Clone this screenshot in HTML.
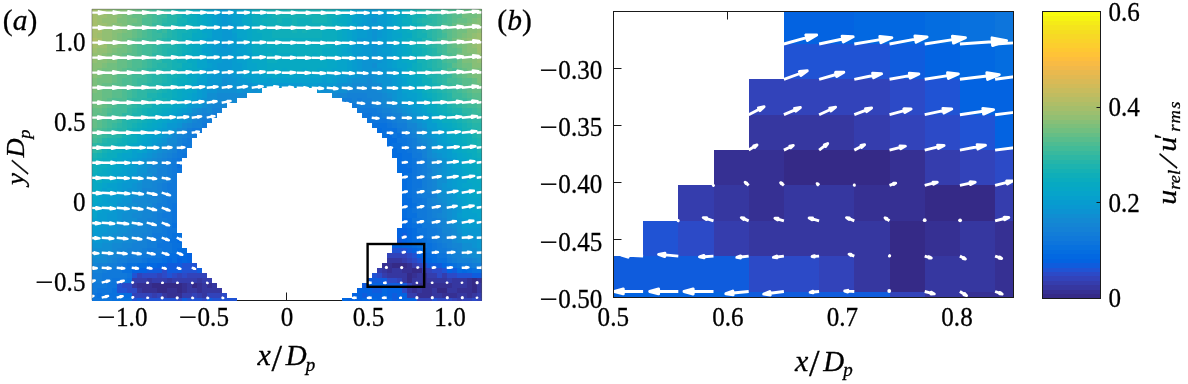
<!DOCTYPE html>
<html><head><meta charset="utf-8"><title>Figure</title>
<style>
html,body{margin:0;padding:0;background:#fff;}
body{width:1188px;height:384px;overflow:hidden;}
svg{display:block;}
text{font-family:"Liberation Serif",serif;fill:#000;stroke:#000;stroke-width:0.3px;}
.it{font-style:italic;}
</style></head><body>
<svg width="1188" height="384" viewBox="0 0 1188 384">
<g stroke="#1a1a1a" stroke-width="1" fill="none">
<path d="M225 300.5H352"/>
<path d="M286.5 300.5V292.5"/>
</g>
<g shape-rendering="crispEdges">
<path fill="#0268e1" d="M401.7 202.7h5.2v5.2h-5.2zM401.7 217.7h5.2v5.2h-5.2zM401.7 222.7h5.2v5.2h-5.2zM406.7 227.7h5.2v5.2h-5.2zM406.7 232.7h5.2v5.2h-5.2zM406.7 237.7h5.2v5.2h-5.2zM401.7 242.7h10.2v5.2h-10.2zM416.7 247.7h5.2v5.2h-5.2zM176.7 252.7h10.2v5.2h-10.2zM166.7 257.7h5.2v5.2h-5.2zM181.7 257.7h5.2v5.2h-5.2zM426.7 257.7h5.2v5.2h-5.2zM146.7 262.7h10.2v5.2h-10.2zM441.7 262.7h5.2v5.2h-5.2zM461.7 267.7h5.2v5.2h-5.2zM381.7 287.7h5.2v5.2h-5.2zM381.7 292.7h5.2v5.2h-5.2zM341.7 297.7h5.2v3.2h-5.2zM361.7 297.7h5.2v3.2h-5.2zM371.7 297.7h5.2v3.2h-5.2zM386.7 297.7h5.2v3.2h-5.2z"/>
<path fill="#0363e1" d="M396.7 227.7h10.2v5.2h-10.2zM396.7 232.7h5.2v5.2h-5.2zM401.7 237.7h5.2v5.2h-5.2zM391.7 242.7h10.2v5.2h-10.2zM411.7 247.7h5.2v5.2h-5.2zM186.7 252.7h5.2v5.2h-5.2zM416.7 252.7h10.2v5.2h-10.2zM176.7 257.7h5.2v5.2h-5.2zM186.7 257.7h5.2v5.2h-5.2zM421.7 257.7h5.2v5.2h-5.2zM156.7 262.7h10.2v5.2h-10.2zM131.7 267.7h15.2v5.2h-15.2zM446.7 267.7h5.2v5.2h-5.2zM366.7 282.7h20.2v5.2h-20.2zM356.7 287.7h15.2v5.2h-15.2zM386.7 287.7h15.2v5.2h-15.2zM351.7 292.7h10.2v5.2h-10.2zM366.7 292.7h15.2v5.2h-15.2zM386.7 292.7h5.2v5.2h-5.2zM396.7 292.7h10.2v5.2h-10.2zM346.7 297.7h15.2v3.2h-15.2zM366.7 297.7h5.2v3.2h-5.2zM376.7 297.7h10.2v3.2h-10.2zM396.7 297.7h20.2v3.2h-20.2z"/>
<path fill="#046de0" d="M376.7 127.7h5.2v5.2h-5.2zM386.7 132.7h5.2v5.2h-5.2zM386.7 137.7h10.2v5.2h-10.2zM386.7 142.7h5.2v5.2h-5.2zM391.7 147.7h5.2v5.2h-5.2zM391.7 152.7h10.2v5.2h-10.2zM396.7 157.7h5.2v5.2h-5.2zM396.7 162.7h10.2v5.2h-10.2zM396.7 167.7h15.2v5.2h-15.2zM401.7 172.7h5.2v5.2h-5.2zM401.7 177.7h5.2v5.2h-5.2zM401.7 182.7h5.2v5.2h-5.2zM401.7 187.7h5.2v5.2h-5.2zM401.7 192.7h5.2v5.2h-5.2zM401.7 197.7h10.2v5.2h-10.2zM406.7 202.7h5.2v5.2h-5.2zM401.7 207.7h5.2v5.2h-5.2zM401.7 212.7h5.2v5.2h-5.2zM406.7 217.7h5.2v5.2h-5.2zM406.7 222.7h5.2v5.2h-5.2zM411.7 227.7h5.2v5.2h-5.2zM411.7 232.7h5.2v5.2h-5.2zM176.7 237.7h5.2v5.2h-5.2zM411.7 237.7h10.2v5.2h-10.2zM411.7 242.7h5.2v5.2h-5.2zM176.7 247.7h10.2v5.2h-10.2zM421.7 247.7h5.2v5.2h-5.2zM166.7 252.7h10.2v5.2h-10.2zM426.7 252.7h10.2v5.2h-10.2zM161.7 257.7h5.2v5.2h-5.2zM171.7 257.7h5.2v5.2h-5.2zM431.7 257.7h5.2v5.2h-5.2zM136.7 262.7h10.2v5.2h-10.2zM446.7 262.7h5.2v5.2h-5.2zM456.7 267.7h5.2v5.2h-5.2zM466.7 267.7h5.2v5.2h-5.2zM121.7 292.7h10.2v5.2h-10.2z"/>
<path fill="#06a0cd" d="M211.7 9h5.2v3.9h-5.2zM231.7 9h5.2v3.9h-5.2zM356.7 9h5.2v3.9h-5.2zM381.7 9h10.2v3.9h-10.2zM211.7 12.7h5.2v5.2h-5.2zM231.7 12.7h10.2v5.2h-10.2zM356.7 12.7h5.2v5.2h-5.2zM386.7 12.7h5.2v5.2h-5.2zM211.7 17.7h5.2v5.2h-5.2zM231.7 17.7h10.2v5.2h-10.2zM351.7 17.7h10.2v5.2h-10.2zM386.7 17.7h5.2v5.2h-5.2zM211.7 22.7h5.2v5.2h-5.2zM236.7 22.7h5.2v5.2h-5.2zM386.7 22.7h5.2v5.2h-5.2zM231.7 27.7h5.2v5.3h-5.2zM351.7 27.7h5.2v5.3h-5.2zM386.7 27.7h5.2v5.3h-5.2zM351.7 32.7h5.2v5.2h-5.2zM386.7 32.7h5.2v5.2h-5.2zM206.7 37.7h5.2v5.2h-5.2zM236.7 37.7h5.2v5.2h-5.2zM351.7 37.7h5.2v5.2h-5.2zM386.7 37.7h5.2v5.2h-5.2zM206.7 42.7h5.2v5.2h-5.2zM241.7 42.7h5.2v5.2h-5.2zM201.7 47.7h10.2v5.2h-10.2zM236.7 47.7h10.2v5.2h-10.2zM346.7 47.7h5.2v5.2h-5.2zM391.7 47.7h5.2v5.2h-5.2zM206.7 52.7h5.2v5.2h-5.2zM241.7 52.7h10.2v5.2h-10.2zM391.7 52.7h5.2v5.2h-5.2zM236.7 57.7h10.2v5.2h-10.2zM346.7 57.7h5.2v5.2h-5.2zM391.7 57.7h5.2v5.2h-5.2zM206.7 62.7h5.2v5.2h-5.2zM241.7 62.7h5.2v5.2h-5.2zM346.7 62.7h5.2v5.2h-5.2zM391.7 62.7h5.2v5.2h-5.2zM201.7 67.7h5.2v5.2h-5.2zM241.7 67.7h5.2v5.2h-5.2zM346.7 67.7h5.2v5.2h-5.2zM396.7 67.7h5.2v5.2h-5.2zM201.7 72.7h5.2v5.2h-5.2zM241.7 72.7h20.2v5.2h-20.2zM321.7 72.7h15.2v5.2h-15.2zM396.7 72.7h5.2v5.2h-5.2zM196.7 77.7h10.2v5.2h-10.2zM251.7 77.7h15.2v5.2h-15.2zM271.7 77.7h50.2v5.2h-50.2zM326.7 77.7h5.2v5.2h-5.2zM401.7 77.7h5.2v5.2h-5.2zM401.7 82.7h5.2v5.2h-5.2zM401.7 87.7h10.2v5.2h-10.2zM191.7 92.7h5.2v5.2h-5.2zM406.7 92.7h10.2v5.2h-10.2zM191.7 97.7h5.2v5.2h-5.2zM411.7 97.7h5.2v5.2h-5.2zM176.7 107.7h5.2v5.2h-5.2zM421.7 107.7h5.2v5.2h-5.2zM171.7 112.7h5.2v5.2h-5.2zM426.7 112.7h5.2v5.2h-5.2zM166.7 117.7h5.2v5.2h-5.2zM161.7 122.7h5.2v5.2h-5.2zM156.7 127.7h5.2v5.2h-5.2zM436.7 127.7h5.2v5.2h-5.2zM151.7 132.7h10.2v5.2h-10.2zM441.7 132.7h5.2v5.2h-5.2zM146.7 137.7h5.2v5.2h-5.2zM441.7 137.7h5.2v5.2h-5.2zM141.7 142.7h10.2v5.2h-10.2zM446.7 142.7h5.2v5.2h-5.2zM131.7 147.7h5.2v5.2h-5.2zM141.7 147.7h5.2v5.2h-5.2zM131.7 152.7h5.2v5.2h-5.2zM451.7 152.7h5.2v5.2h-5.2zM126.7 157.7h5.2v5.2h-5.2zM121.7 162.7h10.2v5.2h-10.2zM451.7 162.7h10.2v5.2h-10.2zM121.7 167.7h5.2v5.2h-5.2zM456.7 167.7h5.2v5.2h-5.2zM116.7 172.7h10.2v5.2h-10.2zM456.7 172.7h5.2v5.2h-5.2zM116.7 177.7h5.2v5.2h-5.2zM456.7 177.7h10.2v5.2h-10.2zM106.7 182.7h10.2v5.2h-10.2zM456.7 182.7h5.2v5.2h-5.2zM101.7 187.7h5.2v5.2h-5.2zM111.7 187.7h5.2v5.2h-5.2zM456.7 187.7h10.2v5.2h-10.2zM101.7 192.7h10.2v5.2h-10.2zM456.7 192.7h10.2v5.2h-10.2zM101.7 197.7h5.2v5.2h-5.2zM461.7 197.7h5.2v5.2h-5.2zM96.7 202.7h15.2v5.2h-15.2zM461.7 202.7h5.2v5.2h-5.2zM96.7 207.7h5.2v5.2h-5.2zM461.7 207.7h10.2v5.2h-10.2zM461.7 212.7h15.2v5.2h-15.2zM91.7 217.7h5.2v5.2h-5.2zM466.7 217.7h15.2v5.2h-15.2z"/>
<path fill="#06a4ca" d="M206.7 9h5.2v3.9h-5.2zM236.7 9h10.2v3.9h-10.2zM351.7 9h5.2v3.9h-5.2zM206.7 12.7h5.2v5.2h-5.2zM241.7 12.7h5.2v5.2h-5.2zM351.7 12.7h5.2v5.2h-5.2zM391.7 12.7h5.2v5.2h-5.2zM206.7 17.7h5.2v5.2h-5.2zM391.7 17.7h5.2v5.2h-5.2zM206.7 22.7h5.2v5.2h-5.2zM241.7 22.7h5.2v5.2h-5.2zM346.7 22.7h10.2v5.2h-10.2zM391.7 22.7h5.2v5.2h-5.2zM201.7 27.7h10.2v5.3h-10.2zM236.7 27.7h10.2v5.3h-10.2zM346.7 27.7h5.2v5.3h-5.2zM391.7 27.7h5.2v5.3h-5.2zM206.7 32.7h5.2v5.2h-5.2zM236.7 32.7h10.2v5.2h-10.2zM346.7 32.7h5.2v5.2h-5.2zM391.7 32.7h10.2v5.2h-10.2zM201.7 37.7h5.2v5.2h-5.2zM241.7 37.7h5.2v5.2h-5.2zM346.7 37.7h5.2v5.2h-5.2zM391.7 37.7h5.2v5.2h-5.2zM201.7 42.7h5.2v5.2h-5.2zM246.7 42.7h5.2v5.2h-5.2zM346.7 42.7h5.2v5.2h-5.2zM391.7 42.7h10.2v5.2h-10.2zM246.7 47.7h5.2v5.2h-5.2zM341.7 47.7h5.2v5.2h-5.2zM396.7 47.7h5.2v5.2h-5.2zM201.7 52.7h5.2v5.2h-5.2zM341.7 52.7h10.2v5.2h-10.2zM396.7 52.7h5.2v5.2h-5.2zM196.7 57.7h10.2v5.2h-10.2zM246.7 57.7h5.2v5.2h-5.2zM336.7 57.7h10.2v5.2h-10.2zM396.7 57.7h5.2v5.2h-5.2zM196.7 62.7h10.2v5.2h-10.2zM246.7 62.7h10.2v5.2h-10.2zM336.7 62.7h10.2v5.2h-10.2zM396.7 62.7h10.2v5.2h-10.2zM246.7 67.7h10.2v5.2h-10.2zM331.7 67.7h15.2v5.2h-15.2zM401.7 67.7h5.2v5.2h-5.2zM196.7 72.7h5.2v5.2h-5.2zM261.7 72.7h10.2v5.2h-10.2zM276.7 72.7h10.2v5.2h-10.2zM291.7 72.7h30.2v5.2h-30.2zM401.7 72.7h5.2v5.2h-5.2zM191.7 82.7h5.2v5.2h-5.2zM406.7 82.7h5.2v5.2h-5.2zM191.7 87.7h5.2v5.2h-5.2zM411.7 87.7h5.2v5.2h-5.2zM186.7 92.7h5.2v5.2h-5.2zM416.7 92.7h5.2v5.2h-5.2zM181.7 97.7h10.2v5.2h-10.2zM416.7 97.7h5.2v5.2h-5.2zM181.7 102.7h5.2v5.2h-5.2zM421.7 102.7h5.2v5.2h-5.2zM171.7 107.7h5.2v5.2h-5.2zM166.7 112.7h5.2v5.2h-5.2zM161.7 117.7h5.2v5.2h-5.2zM431.7 117.7h5.2v5.2h-5.2zM156.7 122.7h5.2v5.2h-5.2zM436.7 122.7h5.2v5.2h-5.2zM151.7 127.7h5.2v5.2h-5.2zM441.7 127.7h5.2v5.2h-5.2zM146.7 132.7h5.2v5.2h-5.2zM141.7 137.7h5.2v5.2h-5.2zM446.7 137.7h5.2v5.2h-5.2zM136.7 142.7h5.2v5.2h-5.2zM451.7 142.7h5.2v5.2h-5.2zM136.7 147.7h5.2v5.2h-5.2zM451.7 147.7h5.2v5.2h-5.2zM121.7 152.7h10.2v5.2h-10.2zM456.7 152.7h5.2v5.2h-5.2zM121.7 157.7h5.2v5.2h-5.2zM456.7 157.7h10.2v5.2h-10.2zM116.7 162.7h5.2v5.2h-5.2zM111.7 167.7h10.2v5.2h-10.2zM461.7 167.7h5.2v5.2h-5.2zM111.7 172.7h5.2v5.2h-5.2zM461.7 172.7h5.2v5.2h-5.2zM111.7 177.7h5.2v5.2h-5.2zM101.7 182.7h5.2v5.2h-5.2zM461.7 182.7h10.2v5.2h-10.2zM106.7 187.7h5.2v5.2h-5.2zM466.7 187.7h5.2v5.2h-5.2zM96.7 192.7h5.2v5.2h-5.2zM466.7 192.7h5.2v5.2h-5.2zM96.7 197.7h5.2v5.2h-5.2zM466.7 197.7h15.2v5.2h-15.2zM91.7 202.7h5.2v5.2h-5.2zM466.7 202.7h15.2v5.2h-15.2zM91.7 207.7h5.2v5.2h-5.2zM471.7 207.7h10.2v5.2h-10.2zM91.7 212.7h5.2v5.2h-5.2zM476.7 212.7h5.2v5.2h-5.2z"/>
<path fill="#06a7c6" d="M201.7 9h5.2v3.9h-5.2zM246.7 9h5.2v3.9h-5.2zM346.7 9h5.2v3.9h-5.2zM391.7 9h10.2v3.9h-10.2zM201.7 12.7h5.2v5.2h-5.2zM346.7 12.7h5.2v5.2h-5.2zM201.7 17.7h5.2v5.2h-5.2zM241.7 17.7h10.2v5.2h-10.2zM346.7 17.7h5.2v5.2h-5.2zM396.7 17.7h5.2v5.2h-5.2zM201.7 22.7h5.2v5.2h-5.2zM246.7 22.7h5.2v5.2h-5.2zM396.7 22.7h5.2v5.2h-5.2zM246.7 27.7h5.2v5.3h-5.2zM341.7 27.7h5.2v5.3h-5.2zM396.7 27.7h5.2v5.3h-5.2zM201.7 32.7h5.2v5.2h-5.2zM246.7 32.7h5.2v5.2h-5.2zM341.7 32.7h5.2v5.2h-5.2zM196.7 37.7h5.2v5.2h-5.2zM246.7 37.7h5.2v5.2h-5.2zM341.7 37.7h5.2v5.2h-5.2zM396.7 37.7h5.2v5.2h-5.2zM336.7 42.7h10.2v5.2h-10.2zM401.7 42.7h5.2v5.2h-5.2zM196.7 47.7h5.2v5.2h-5.2zM336.7 47.7h5.2v5.2h-5.2zM401.7 47.7h5.2v5.2h-5.2zM196.7 52.7h5.2v5.2h-5.2zM251.7 52.7h10.2v5.2h-10.2zM336.7 52.7h5.2v5.2h-5.2zM401.7 52.7h5.2v5.2h-5.2zM251.7 57.7h15.2v5.2h-15.2zM326.7 57.7h10.2v5.2h-10.2zM401.7 57.7h5.2v5.2h-5.2zM256.7 62.7h10.2v5.2h-10.2zM326.7 62.7h10.2v5.2h-10.2zM406.7 62.7h5.2v5.2h-5.2zM196.7 67.7h5.2v5.2h-5.2zM256.7 67.7h10.2v5.2h-10.2zM271.7 67.7h5.2v5.2h-5.2zM281.7 67.7h5.2v5.2h-5.2zM301.7 67.7h5.2v5.2h-5.2zM316.7 67.7h15.2v5.2h-15.2zM186.7 72.7h10.2v5.2h-10.2zM271.7 72.7h5.2v5.2h-5.2zM286.7 72.7h5.2v5.2h-5.2zM406.7 72.7h5.2v5.2h-5.2zM191.7 77.7h5.2v5.2h-5.2zM406.7 77.7h10.2v5.2h-10.2zM186.7 82.7h5.2v5.2h-5.2zM411.7 82.7h5.2v5.2h-5.2zM181.7 87.7h10.2v5.2h-10.2zM416.7 87.7h5.2v5.2h-5.2zM181.7 92.7h5.2v5.2h-5.2zM421.7 97.7h5.2v5.2h-5.2zM171.7 102.7h10.2v5.2h-10.2zM166.7 107.7h5.2v5.2h-5.2zM426.7 107.7h5.2v5.2h-5.2zM161.7 112.7h5.2v5.2h-5.2zM431.7 112.7h5.2v5.2h-5.2zM156.7 117.7h5.2v5.2h-5.2zM436.7 117.7h5.2v5.2h-5.2zM151.7 122.7h5.2v5.2h-5.2zM441.7 122.7h5.2v5.2h-5.2zM146.7 127.7h5.2v5.2h-5.2zM446.7 127.7h5.2v5.2h-5.2zM141.7 132.7h5.2v5.2h-5.2zM446.7 132.7h5.2v5.2h-5.2zM136.7 137.7h5.2v5.2h-5.2zM451.7 137.7h5.2v5.2h-5.2zM131.7 142.7h5.2v5.2h-5.2zM126.7 147.7h5.2v5.2h-5.2zM456.7 147.7h5.2v5.2h-5.2zM116.7 152.7h5.2v5.2h-5.2zM461.7 152.7h5.2v5.2h-5.2zM111.7 157.7h10.2v5.2h-10.2zM111.7 162.7h5.2v5.2h-5.2zM461.7 162.7h10.2v5.2h-10.2zM106.7 167.7h5.2v5.2h-5.2zM466.7 167.7h5.2v5.2h-5.2zM106.7 172.7h5.2v5.2h-5.2zM466.7 172.7h10.2v5.2h-10.2zM101.7 177.7h10.2v5.2h-10.2zM466.7 177.7h10.2v5.2h-10.2zM96.7 182.7h5.2v5.2h-5.2zM471.7 182.7h10.2v5.2h-10.2zM96.7 187.7h5.2v5.2h-5.2zM471.7 187.7h5.2v5.2h-5.2zM91.7 192.7h5.2v5.2h-5.2zM471.7 192.7h10.2v5.2h-10.2zM91.7 197.7h5.2v5.2h-5.2z"/>
<path fill="#079ccf" d="M216.7 9h5.2v3.9h-5.2zM226.7 9h5.2v3.9h-5.2zM361.7 9h10.2v3.9h-10.2zM376.7 9h5.2v3.9h-5.2zM216.7 12.7h5.2v5.2h-5.2zM226.7 12.7h5.2v5.2h-5.2zM361.7 12.7h10.2v5.2h-10.2zM376.7 12.7h10.2v5.2h-10.2zM216.7 17.7h5.2v5.2h-5.2zM226.7 17.7h5.2v5.2h-5.2zM361.7 17.7h5.2v5.2h-5.2zM376.7 17.7h10.2v5.2h-10.2zM216.7 22.7h5.2v5.2h-5.2zM231.7 22.7h5.2v5.2h-5.2zM356.7 22.7h5.2v5.2h-5.2zM381.7 22.7h5.2v5.2h-5.2zM211.7 27.7h10.2v5.3h-10.2zM356.7 27.7h10.2v5.3h-10.2zM381.7 27.7h5.2v5.3h-5.2zM211.7 32.7h10.2v5.2h-10.2zM231.7 32.7h5.2v5.2h-5.2zM356.7 32.7h10.2v5.2h-10.2zM381.7 32.7h5.2v5.2h-5.2zM211.7 37.7h10.2v5.2h-10.2zM231.7 37.7h5.2v5.2h-5.2zM376.7 37.7h10.2v5.2h-10.2zM211.7 42.7h10.2v5.2h-10.2zM226.7 42.7h15.2v5.2h-15.2zM351.7 42.7h10.2v5.2h-10.2zM386.7 42.7h5.2v5.2h-5.2zM211.7 47.7h5.2v5.2h-5.2zM231.7 47.7h5.2v5.2h-5.2zM351.7 47.7h10.2v5.2h-10.2zM381.7 47.7h10.2v5.2h-10.2zM211.7 52.7h10.2v5.2h-10.2zM231.7 52.7h10.2v5.2h-10.2zM351.7 52.7h5.2v5.2h-5.2zM386.7 52.7h5.2v5.2h-5.2zM206.7 57.7h15.2v5.2h-15.2zM231.7 57.7h5.2v5.2h-5.2zM351.7 57.7h5.2v5.2h-5.2zM386.7 57.7h5.2v5.2h-5.2zM211.7 62.7h5.2v5.2h-5.2zM231.7 62.7h10.2v5.2h-10.2zM351.7 62.7h5.2v5.2h-5.2zM386.7 62.7h5.2v5.2h-5.2zM206.7 67.7h10.2v5.2h-10.2zM231.7 67.7h10.2v5.2h-10.2zM351.7 67.7h5.2v5.2h-5.2zM391.7 67.7h5.2v5.2h-5.2zM206.7 72.7h5.2v5.2h-5.2zM336.7 72.7h10.2v5.2h-10.2zM391.7 72.7h5.2v5.2h-5.2zM246.7 77.7h5.2v5.2h-5.2zM266.7 77.7h5.2v5.2h-5.2zM321.7 77.7h5.2v5.2h-5.2zM331.7 77.7h5.2v5.2h-5.2zM396.7 77.7h5.2v5.2h-5.2zM196.7 82.7h10.2v5.2h-10.2zM266.7 82.7h10.2v5.2h-10.2zM301.7 82.7h15.2v5.2h-15.2zM396.7 82.7h5.2v5.2h-5.2zM196.7 87.7h5.2v5.2h-5.2zM196.7 92.7h5.2v5.2h-5.2zM401.7 92.7h5.2v5.2h-5.2zM401.7 97.7h10.2v5.2h-10.2zM186.7 102.7h5.2v5.2h-5.2zM411.7 102.7h10.2v5.2h-10.2zM181.7 107.7h5.2v5.2h-5.2zM416.7 107.7h5.2v5.2h-5.2zM176.7 112.7h5.2v5.2h-5.2zM421.7 112.7h5.2v5.2h-5.2zM171.7 117.7h5.2v5.2h-5.2zM426.7 117.7h5.2v5.2h-5.2zM426.7 122.7h10.2v5.2h-10.2zM161.7 127.7h5.2v5.2h-5.2zM431.7 127.7h5.2v5.2h-5.2zM436.7 132.7h5.2v5.2h-5.2zM151.7 137.7h5.2v5.2h-5.2zM436.7 137.7h5.2v5.2h-5.2zM441.7 142.7h5.2v5.2h-5.2zM446.7 147.7h5.2v5.2h-5.2zM136.7 152.7h5.2v5.2h-5.2zM446.7 152.7h5.2v5.2h-5.2zM131.7 157.7h5.2v5.2h-5.2zM451.7 157.7h5.2v5.2h-5.2zM131.7 162.7h5.2v5.2h-5.2zM126.7 167.7h10.2v5.2h-10.2zM451.7 167.7h5.2v5.2h-5.2zM126.7 172.7h5.2v5.2h-5.2zM451.7 172.7h5.2v5.2h-5.2zM121.7 177.7h5.2v5.2h-5.2zM451.7 177.7h5.2v5.2h-5.2zM116.7 182.7h5.2v5.2h-5.2zM451.7 182.7h5.2v5.2h-5.2zM116.7 187.7h5.2v5.2h-5.2zM111.7 192.7h10.2v5.2h-10.2zM106.7 197.7h10.2v5.2h-10.2zM456.7 197.7h5.2v5.2h-5.2zM111.7 202.7h5.2v5.2h-5.2zM456.7 202.7h5.2v5.2h-5.2zM101.7 207.7h10.2v5.2h-10.2zM96.7 212.7h10.2v5.2h-10.2zM456.7 212.7h5.2v5.2h-5.2zM96.7 217.7h10.2v5.2h-10.2zM461.7 217.7h5.2v5.2h-5.2zM91.7 222.7h10.2v5.2h-10.2zM461.7 222.7h20.2v5.2h-20.2zM91.7 227.7h5.2v5.2h-5.2z"/>
<path fill="#07a9c2" d="M196.7 9h5.2v3.9h-5.2zM196.7 12.7h5.2v5.2h-5.2zM246.7 12.7h5.2v5.2h-5.2zM341.7 12.7h5.2v5.2h-5.2zM396.7 12.7h10.2v5.2h-10.2zM196.7 17.7h5.2v5.2h-5.2zM336.7 17.7h10.2v5.2h-10.2zM196.7 22.7h5.2v5.2h-5.2zM251.7 22.7h5.2v5.2h-5.2zM341.7 22.7h5.2v5.2h-5.2zM401.7 22.7h5.2v5.2h-5.2zM196.7 27.7h5.2v5.3h-5.2zM251.7 27.7h5.2v5.3h-5.2zM336.7 27.7h5.2v5.3h-5.2zM401.7 27.7h5.2v5.3h-5.2zM191.7 32.7h10.2v5.2h-10.2zM251.7 32.7h10.2v5.2h-10.2zM336.7 32.7h5.2v5.2h-5.2zM401.7 32.7h10.2v5.2h-10.2zM191.7 37.7h5.2v5.2h-5.2zM251.7 37.7h10.2v5.2h-10.2zM336.7 37.7h5.2v5.2h-5.2zM401.7 37.7h5.2v5.2h-5.2zM191.7 42.7h10.2v5.2h-10.2zM251.7 42.7h15.2v5.2h-15.2zM331.7 42.7h5.2v5.2h-5.2zM191.7 47.7h5.2v5.2h-5.2zM251.7 47.7h25.2v5.2h-25.2zM321.7 47.7h15.2v5.2h-15.2zM406.7 47.7h5.2v5.2h-5.2zM186.7 52.7h10.2v5.2h-10.2zM261.7 52.7h5.2v5.2h-5.2zM271.7 52.7h25.2v5.2h-25.2zM311.7 52.7h5.2v5.2h-5.2zM321.7 52.7h15.2v5.2h-15.2zM406.7 52.7h5.2v5.2h-5.2zM186.7 57.7h10.2v5.2h-10.2zM276.7 57.7h50.2v5.2h-50.2zM406.7 57.7h10.2v5.2h-10.2zM191.7 62.7h5.2v5.2h-5.2zM266.7 62.7h60.2v5.2h-60.2zM186.7 67.7h10.2v5.2h-10.2zM266.7 67.7h5.2v5.2h-5.2zM276.7 67.7h5.2v5.2h-5.2zM286.7 67.7h15.2v5.2h-15.2zM306.7 67.7h10.2v5.2h-10.2zM406.7 67.7h5.2v5.2h-5.2zM411.7 72.7h5.2v5.2h-5.2zM186.7 77.7h5.2v5.2h-5.2zM416.7 77.7h5.2v5.2h-5.2zM181.7 82.7h5.2v5.2h-5.2zM416.7 82.7h5.2v5.2h-5.2zM176.7 87.7h5.2v5.2h-5.2zM176.7 92.7h5.2v5.2h-5.2zM421.7 92.7h5.2v5.2h-5.2zM171.7 97.7h10.2v5.2h-10.2zM426.7 97.7h5.2v5.2h-5.2zM426.7 102.7h10.2v5.2h-10.2zM161.7 107.7h5.2v5.2h-5.2zM431.7 107.7h5.2v5.2h-5.2zM156.7 112.7h5.2v5.2h-5.2zM436.7 112.7h5.2v5.2h-5.2zM151.7 117.7h5.2v5.2h-5.2zM146.7 122.7h5.2v5.2h-5.2zM446.7 122.7h5.2v5.2h-5.2zM141.7 127.7h5.2v5.2h-5.2zM451.7 127.7h5.2v5.2h-5.2zM136.7 132.7h5.2v5.2h-5.2zM451.7 132.7h10.2v5.2h-10.2zM456.7 137.7h5.2v5.2h-5.2zM126.7 142.7h5.2v5.2h-5.2zM456.7 142.7h10.2v5.2h-10.2zM121.7 147.7h5.2v5.2h-5.2zM461.7 147.7h5.2v5.2h-5.2zM466.7 152.7h5.2v5.2h-5.2zM466.7 157.7h10.2v5.2h-10.2zM106.7 162.7h5.2v5.2h-5.2zM471.7 162.7h5.2v5.2h-5.2zM101.7 167.7h5.2v5.2h-5.2zM471.7 167.7h5.2v5.2h-5.2zM96.7 172.7h10.2v5.2h-10.2zM476.7 172.7h5.2v5.2h-5.2zM91.7 177.7h5.2v5.2h-5.2zM476.7 177.7h5.2v5.2h-5.2zM91.7 182.7h5.2v5.2h-5.2zM91.7 187.7h5.2v5.2h-5.2zM476.7 187.7h5.2v5.2h-5.2z"/>
<path fill="#0871de" d="M371.7 122.7h15.2v5.2h-15.2zM381.7 127.7h15.2v5.2h-15.2zM381.7 132.7h5.2v5.2h-5.2zM396.7 132.7h5.2v5.2h-5.2zM391.7 142.7h10.2v5.2h-10.2zM396.7 147.7h10.2v5.2h-10.2zM401.7 152.7h10.2v5.2h-10.2zM401.7 157.7h10.2v5.2h-10.2zM176.7 162.7h5.2v5.2h-5.2zM406.7 162.7h5.2v5.2h-5.2zM406.7 172.7h5.2v5.2h-5.2zM406.7 177.7h5.2v5.2h-5.2zM406.7 182.7h5.2v5.2h-5.2zM406.7 187.7h5.2v5.2h-5.2zM406.7 192.7h5.2v5.2h-5.2zM411.7 202.7h5.2v5.2h-5.2zM406.7 207.7h5.2v5.2h-5.2zM406.7 212.7h10.2v5.2h-10.2zM171.7 222.7h5.2v5.2h-5.2zM411.7 222.7h10.2v5.2h-10.2zM171.7 232.7h10.2v5.2h-10.2zM416.7 232.7h5.2v5.2h-5.2zM166.7 237.7h10.2v5.2h-10.2zM421.7 237.7h5.2v5.2h-5.2zM171.7 242.7h10.2v5.2h-10.2zM416.7 242.7h5.2v5.2h-5.2zM426.7 242.7h5.2v5.2h-5.2zM171.7 247.7h5.2v5.2h-5.2zM426.7 247.7h5.2v5.2h-5.2zM161.7 252.7h5.2v5.2h-5.2zM146.7 257.7h15.2v5.2h-15.2zM436.7 257.7h10.2v5.2h-10.2zM126.7 262.7h10.2v5.2h-10.2zM451.7 262.7h5.2v5.2h-5.2zM121.7 267.7h10.2v5.2h-10.2zM471.7 267.7h10.2v5.2h-10.2zM126.7 277.7h5.2v5.2h-5.2zM111.7 287.7h5.2v5.2h-5.2zM96.7 292.7h5.2v5.2h-5.2zM106.7 292.7h15.2v5.2h-15.2zM111.7 297.7h20.2v3.2h-20.2z"/>
<path fill="#0998d1" d="M221.7 9h5.2v3.9h-5.2zM371.7 9h5.2v3.9h-5.2zM221.7 12.7h5.2v5.2h-5.2zM371.7 12.7h5.2v5.2h-5.2zM221.7 17.7h5.2v5.2h-5.2zM366.7 17.7h5.2v5.2h-5.2zM221.7 22.7h10.2v5.2h-10.2zM361.7 22.7h20.2v5.2h-20.2zM221.7 27.7h10.2v5.3h-10.2zM366.7 27.7h5.2v5.3h-5.2zM376.7 27.7h5.2v5.3h-5.2zM221.7 32.7h10.2v5.2h-10.2zM366.7 32.7h5.2v5.2h-5.2zM376.7 32.7h5.2v5.2h-5.2zM221.7 37.7h10.2v5.2h-10.2zM356.7 37.7h15.2v5.2h-15.2zM361.7 42.7h10.2v5.2h-10.2zM376.7 42.7h10.2v5.2h-10.2zM216.7 47.7h15.2v5.2h-15.2zM361.7 47.7h10.2v5.2h-10.2zM376.7 47.7h5.2v5.2h-5.2zM221.7 52.7h10.2v5.2h-10.2zM356.7 52.7h15.2v5.2h-15.2zM376.7 52.7h10.2v5.2h-10.2zM221.7 57.7h10.2v5.2h-10.2zM356.7 57.7h5.2v5.2h-5.2zM381.7 57.7h5.2v5.2h-5.2zM216.7 62.7h15.2v5.2h-15.2zM356.7 62.7h5.2v5.2h-5.2zM376.7 62.7h10.2v5.2h-10.2zM216.7 67.7h15.2v5.2h-15.2zM356.7 67.7h5.2v5.2h-5.2zM381.7 67.7h10.2v5.2h-10.2zM211.7 72.7h10.2v5.2h-10.2zM231.7 72.7h10.2v5.2h-10.2zM346.7 72.7h10.2v5.2h-10.2zM386.7 72.7h5.2v5.2h-5.2zM206.7 77.7h15.2v5.2h-15.2zM236.7 77.7h10.2v5.2h-10.2zM336.7 77.7h10.2v5.2h-10.2zM391.7 77.7h5.2v5.2h-5.2zM206.7 82.7h5.2v5.2h-5.2zM241.7 82.7h5.2v5.2h-5.2zM251.7 82.7h15.2v5.2h-15.2zM276.7 82.7h25.2v5.2h-25.2zM316.7 82.7h20.2v5.2h-20.2zM391.7 82.7h5.2v5.2h-5.2zM201.7 87.7h5.2v5.2h-5.2zM396.7 87.7h5.2v5.2h-5.2zM201.7 92.7h5.2v5.2h-5.2zM396.7 92.7h5.2v5.2h-5.2zM196.7 97.7h5.2v5.2h-5.2zM396.7 97.7h5.2v5.2h-5.2zM191.7 102.7h10.2v5.2h-10.2zM406.7 102.7h5.2v5.2h-5.2zM186.7 107.7h5.2v5.2h-5.2zM411.7 107.7h5.2v5.2h-5.2zM416.7 112.7h5.2v5.2h-5.2zM176.7 117.7h5.2v5.2h-5.2zM421.7 117.7h5.2v5.2h-5.2zM166.7 122.7h10.2v5.2h-10.2zM166.7 127.7h5.2v5.2h-5.2zM426.7 127.7h5.2v5.2h-5.2zM161.7 132.7h5.2v5.2h-5.2zM431.7 132.7h5.2v5.2h-5.2zM156.7 137.7h5.2v5.2h-5.2zM151.7 142.7h5.2v5.2h-5.2zM436.7 142.7h5.2v5.2h-5.2zM146.7 147.7h5.2v5.2h-5.2zM436.7 147.7h10.2v5.2h-10.2zM141.7 152.7h5.2v5.2h-5.2zM441.7 152.7h5.2v5.2h-5.2zM136.7 157.7h5.2v5.2h-5.2zM446.7 157.7h5.2v5.2h-5.2zM136.7 162.7h5.2v5.2h-5.2zM446.7 162.7h5.2v5.2h-5.2zM446.7 167.7h5.2v5.2h-5.2zM131.7 172.7h5.2v5.2h-5.2zM446.7 172.7h5.2v5.2h-5.2zM126.7 177.7h10.2v5.2h-10.2zM446.7 177.7h5.2v5.2h-5.2zM121.7 182.7h10.2v5.2h-10.2zM446.7 182.7h5.2v5.2h-5.2zM121.7 187.7h5.2v5.2h-5.2zM451.7 187.7h5.2v5.2h-5.2zM121.7 192.7h5.2v5.2h-5.2zM451.7 192.7h5.2v5.2h-5.2zM116.7 197.7h5.2v5.2h-5.2zM451.7 197.7h5.2v5.2h-5.2zM111.7 207.7h5.2v5.2h-5.2zM456.7 207.7h5.2v5.2h-5.2zM106.7 212.7h10.2v5.2h-10.2zM106.7 217.7h10.2v5.2h-10.2zM456.7 217.7h5.2v5.2h-5.2zM101.7 222.7h10.2v5.2h-10.2zM96.7 227.7h10.2v5.2h-10.2zM461.7 227.7h20.2v5.2h-20.2zM91.7 232.7h10.2v5.2h-10.2zM461.7 232.7h5.2v5.2h-5.2zM471.7 232.7h10.2v5.2h-10.2zM91.7 237.7h10.2v5.2h-10.2zM476.7 237.7h5.2v5.2h-5.2zM476.7 242.7h5.2v5.2h-5.2z"/>
<path fill="#0aacbe" d="M191.7 9h5.2v3.9h-5.2zM251.7 9h10.2v3.9h-10.2zM336.7 9h10.2v3.9h-10.2zM401.7 9h10.2v3.9h-10.2zM191.7 12.7h5.2v5.2h-5.2zM251.7 12.7h15.2v5.2h-15.2zM336.7 12.7h5.2v5.2h-5.2zM186.7 17.7h10.2v5.2h-10.2zM251.7 17.7h10.2v5.2h-10.2zM331.7 17.7h5.2v5.2h-5.2zM401.7 17.7h10.2v5.2h-10.2zM191.7 22.7h5.2v5.2h-5.2zM256.7 22.7h10.2v5.2h-10.2zM331.7 22.7h10.2v5.2h-10.2zM406.7 22.7h5.2v5.2h-5.2zM191.7 27.7h5.2v5.3h-5.2zM256.7 27.7h15.2v5.3h-15.2zM321.7 27.7h15.2v5.3h-15.2zM406.7 27.7h5.2v5.3h-5.2zM261.7 32.7h10.2v5.2h-10.2zM321.7 32.7h15.2v5.2h-15.2zM186.7 37.7h5.2v5.2h-5.2zM261.7 37.7h75.2v5.2h-75.2zM406.7 37.7h5.2v5.2h-5.2zM186.7 42.7h5.2v5.2h-5.2zM266.7 42.7h65.2v5.2h-65.2zM406.7 42.7h5.2v5.2h-5.2zM186.7 47.7h5.2v5.2h-5.2zM276.7 47.7h45.2v5.2h-45.2zM181.7 52.7h5.2v5.2h-5.2zM266.7 52.7h5.2v5.2h-5.2zM296.7 52.7h15.2v5.2h-15.2zM316.7 52.7h5.2v5.2h-5.2zM411.7 52.7h5.2v5.2h-5.2zM266.7 57.7h10.2v5.2h-10.2zM181.7 62.7h10.2v5.2h-10.2zM411.7 62.7h5.2v5.2h-5.2zM181.7 67.7h5.2v5.2h-5.2zM411.7 67.7h5.2v5.2h-5.2zM181.7 72.7h5.2v5.2h-5.2zM416.7 72.7h5.2v5.2h-5.2zM176.7 77.7h10.2v5.2h-10.2zM176.7 82.7h5.2v5.2h-5.2zM421.7 82.7h5.2v5.2h-5.2zM171.7 87.7h5.2v5.2h-5.2zM421.7 87.7h5.2v5.2h-5.2zM171.7 92.7h5.2v5.2h-5.2zM426.7 92.7h5.2v5.2h-5.2zM161.7 102.7h10.2v5.2h-10.2zM156.7 107.7h5.2v5.2h-5.2zM436.7 107.7h5.2v5.2h-5.2zM151.7 112.7h5.2v5.2h-5.2zM441.7 112.7h5.2v5.2h-5.2zM146.7 117.7h5.2v5.2h-5.2zM441.7 117.7h10.2v5.2h-10.2zM141.7 122.7h5.2v5.2h-5.2zM451.7 122.7h5.2v5.2h-5.2zM136.7 127.7h5.2v5.2h-5.2zM456.7 127.7h5.2v5.2h-5.2zM131.7 132.7h5.2v5.2h-5.2zM461.7 132.7h5.2v5.2h-5.2zM126.7 137.7h10.2v5.2h-10.2zM461.7 137.7h5.2v5.2h-5.2zM111.7 147.7h10.2v5.2h-10.2zM466.7 147.7h10.2v5.2h-10.2zM106.7 152.7h10.2v5.2h-10.2zM471.7 152.7h5.2v5.2h-5.2zM101.7 157.7h10.2v5.2h-10.2zM476.7 157.7h5.2v5.2h-5.2zM96.7 162.7h10.2v5.2h-10.2zM476.7 162.7h5.2v5.2h-5.2zM96.7 167.7h5.2v5.2h-5.2zM476.7 167.7h5.2v5.2h-5.2zM91.7 172.7h5.2v5.2h-5.2zM96.7 177.7h5.2v5.2h-5.2z"/>
<path fill="#0c93d2" d="M371.7 17.7h5.2v5.2h-5.2zM371.7 27.7h5.2v5.3h-5.2zM371.7 32.7h5.2v5.2h-5.2zM371.7 37.7h5.2v5.2h-5.2zM221.7 42.7h5.2v5.2h-5.2zM371.7 42.7h5.2v5.2h-5.2zM371.7 47.7h5.2v5.2h-5.2zM371.7 52.7h5.2v5.2h-5.2zM361.7 57.7h20.2v5.2h-20.2zM361.7 62.7h10.2v5.2h-10.2zM361.7 67.7h20.2v5.2h-20.2zM221.7 72.7h10.2v5.2h-10.2zM356.7 72.7h5.2v5.2h-5.2zM376.7 72.7h10.2v5.2h-10.2zM226.7 77.7h10.2v5.2h-10.2zM346.7 77.7h5.2v5.2h-5.2zM376.7 77.7h15.2v5.2h-15.2zM211.7 82.7h10.2v5.2h-10.2zM231.7 82.7h10.2v5.2h-10.2zM246.7 82.7h5.2v5.2h-5.2zM336.7 82.7h5.2v5.2h-5.2zM381.7 82.7h10.2v5.2h-10.2zM206.7 87.7h10.2v5.2h-10.2zM236.7 87.7h5.2v5.2h-5.2zM246.7 87.7h5.2v5.2h-5.2zM256.7 87.7h5.2v5.2h-5.2zM316.7 87.7h5.2v5.2h-5.2zM386.7 87.7h10.2v5.2h-10.2zM391.7 92.7h5.2v5.2h-5.2zM201.7 97.7h5.2v5.2h-5.2zM391.7 97.7h5.2v5.2h-5.2zM401.7 102.7h5.2v5.2h-5.2zM406.7 107.7h5.2v5.2h-5.2zM181.7 112.7h5.2v5.2h-5.2zM411.7 112.7h5.2v5.2h-5.2zM181.7 117.7h5.2v5.2h-5.2zM416.7 117.7h5.2v5.2h-5.2zM176.7 122.7h5.2v5.2h-5.2zM421.7 122.7h5.2v5.2h-5.2zM171.7 127.7h5.2v5.2h-5.2zM166.7 132.7h5.2v5.2h-5.2zM426.7 132.7h5.2v5.2h-5.2zM161.7 137.7h5.2v5.2h-5.2zM431.7 137.7h5.2v5.2h-5.2zM156.7 142.7h5.2v5.2h-5.2zM431.7 142.7h5.2v5.2h-5.2zM151.7 147.7h5.2v5.2h-5.2zM431.7 147.7h5.2v5.2h-5.2zM146.7 152.7h5.2v5.2h-5.2zM436.7 152.7h5.2v5.2h-5.2zM141.7 157.7h5.2v5.2h-5.2zM441.7 157.7h5.2v5.2h-5.2zM141.7 162.7h5.2v5.2h-5.2zM441.7 162.7h5.2v5.2h-5.2zM136.7 167.7h10.2v5.2h-10.2zM441.7 167.7h5.2v5.2h-5.2zM136.7 172.7h5.2v5.2h-5.2zM441.7 172.7h5.2v5.2h-5.2zM136.7 177.7h5.2v5.2h-5.2zM131.7 182.7h5.2v5.2h-5.2zM441.7 182.7h5.2v5.2h-5.2zM126.7 187.7h10.2v5.2h-10.2zM441.7 187.7h10.2v5.2h-10.2zM126.7 192.7h5.2v5.2h-5.2zM446.7 192.7h5.2v5.2h-5.2zM121.7 197.7h10.2v5.2h-10.2zM446.7 197.7h5.2v5.2h-5.2zM116.7 202.7h10.2v5.2h-10.2zM446.7 202.7h10.2v5.2h-10.2zM116.7 207.7h10.2v5.2h-10.2zM451.7 207.7h5.2v5.2h-5.2zM116.7 212.7h5.2v5.2h-5.2zM451.7 212.7h5.2v5.2h-5.2zM116.7 217.7h5.2v5.2h-5.2zM451.7 217.7h5.2v5.2h-5.2zM111.7 222.7h5.2v5.2h-5.2zM456.7 222.7h5.2v5.2h-5.2zM106.7 227.7h10.2v5.2h-10.2zM456.7 227.7h5.2v5.2h-5.2zM101.7 232.7h10.2v5.2h-10.2zM466.7 232.7h5.2v5.2h-5.2zM101.7 237.7h10.2v5.2h-10.2zM461.7 237.7h15.2v5.2h-15.2zM91.7 242.7h10.2v5.2h-10.2zM471.7 242.7h5.2v5.2h-5.2zM476.7 247.7h5.2v5.2h-5.2z"/>
<path fill="#0d75dc" d="M361.7 112.7h10.2v5.2h-10.2zM366.7 117.7h20.2v5.2h-20.2zM386.7 122.7h5.2v5.2h-5.2zM391.7 132.7h5.2v5.2h-5.2zM396.7 137.7h10.2v5.2h-10.2zM401.7 142.7h5.2v5.2h-5.2zM406.7 147.7h5.2v5.2h-5.2zM181.7 152.7h5.2v5.2h-5.2zM176.7 157.7h5.2v5.2h-5.2zM411.7 157.7h5.2v5.2h-5.2zM411.7 162.7h5.2v5.2h-5.2zM176.7 167.7h5.2v5.2h-5.2zM411.7 167.7h5.2v5.2h-5.2zM411.7 172.7h5.2v5.2h-5.2zM411.7 177.7h10.2v5.2h-10.2zM411.7 182.7h10.2v5.2h-10.2zM411.7 187.7h5.2v5.2h-5.2zM411.7 192.7h5.2v5.2h-5.2zM411.7 197.7h10.2v5.2h-10.2zM171.7 202.7h5.2v5.2h-5.2zM171.7 207.7h5.2v5.2h-5.2zM411.7 207.7h5.2v5.2h-5.2zM171.7 212.7h5.2v5.2h-5.2zM171.7 217.7h5.2v5.2h-5.2zM411.7 217.7h10.2v5.2h-10.2zM166.7 227.7h10.2v5.2h-10.2zM416.7 227.7h10.2v5.2h-10.2zM166.7 232.7h5.2v5.2h-5.2zM421.7 232.7h5.2v5.2h-5.2zM161.7 237.7h5.2v5.2h-5.2zM426.7 237.7h5.2v5.2h-5.2zM156.7 242.7h15.2v5.2h-15.2zM421.7 242.7h5.2v5.2h-5.2zM431.7 242.7h5.2v5.2h-5.2zM161.7 247.7h10.2v5.2h-10.2zM431.7 247.7h5.2v5.2h-5.2zM151.7 252.7h10.2v5.2h-10.2zM436.7 252.7h10.2v5.2h-10.2zM141.7 257.7h5.2v5.2h-5.2zM121.7 262.7h5.2v5.2h-5.2zM456.7 262.7h5.2v5.2h-5.2zM126.7 272.7h5.2v5.2h-5.2zM111.7 277.7h15.2v5.2h-15.2zM106.7 282.7h10.2v5.2h-10.2zM96.7 287.7h15.2v5.2h-15.2zM91.7 292.7h5.2v5.2h-5.2zM101.7 292.7h5.2v5.2h-5.2zM91.7 297.7h20.2v3.2h-20.2z"/>
<path fill="#0f5cdd" d="M401.7 232.7h5.2v5.2h-5.2zM396.7 237.7h5.2v5.2h-5.2zM406.7 247.7h5.2v5.2h-5.2zM166.7 262.7h15.2v5.2h-15.2zM426.7 262.7h15.2v5.2h-15.2zM146.7 267.7h15.2v5.2h-15.2zM166.7 267.7h15.2v5.2h-15.2zM196.7 267.7h5.2v5.2h-5.2zM451.7 267.7h5.2v5.2h-5.2zM471.7 272.7h10.2v5.2h-10.2zM366.7 277.7h20.2v5.2h-20.2zM361.7 282.7h5.2v5.2h-5.2zM386.7 282.7h20.2v5.2h-20.2zM371.7 287.7h10.2v5.2h-10.2zM361.7 292.7h5.2v5.2h-5.2zM391.7 292.7h5.2v5.2h-5.2zM136.7 297.7h5.2v3.2h-5.2zM181.7 297.7h5.2v3.2h-5.2zM206.7 297.7h5.2v3.2h-5.2zM391.7 297.7h5.2v3.2h-5.2z"/>
<path fill="#0faeb9" d="M186.7 9h5.2v3.9h-5.2zM261.7 9h5.2v3.9h-5.2zM321.7 9h5.2v3.9h-5.2zM331.7 9h5.2v3.9h-5.2zM181.7 12.7h10.2v5.2h-10.2zM266.7 12.7h5.2v5.2h-5.2zM326.7 12.7h10.2v5.2h-10.2zM406.7 12.7h5.2v5.2h-5.2zM261.7 17.7h15.2v5.2h-15.2zM281.7 17.7h10.2v5.2h-10.2zM296.7 17.7h15.2v5.2h-15.2zM326.7 17.7h5.2v5.2h-5.2zM181.7 22.7h10.2v5.2h-10.2zM266.7 22.7h25.2v5.2h-25.2zM296.7 22.7h35.2v5.2h-35.2zM411.7 22.7h5.2v5.2h-5.2zM186.7 27.7h5.2v5.3h-5.2zM271.7 27.7h20.2v5.3h-20.2zM296.7 27.7h5.2v5.3h-5.2zM306.7 27.7h15.2v5.3h-15.2zM411.7 27.7h5.2v5.3h-5.2zM181.7 32.7h10.2v5.2h-10.2zM271.7 32.7h50.2v5.2h-50.2zM411.7 32.7h5.2v5.2h-5.2zM181.7 37.7h5.2v5.2h-5.2zM411.7 37.7h10.2v5.2h-10.2zM181.7 42.7h5.2v5.2h-5.2zM411.7 42.7h5.2v5.2h-5.2zM181.7 47.7h5.2v5.2h-5.2zM411.7 47.7h10.2v5.2h-10.2zM416.7 52.7h5.2v5.2h-5.2zM176.7 57.7h10.2v5.2h-10.2zM416.7 62.7h5.2v5.2h-5.2zM176.7 67.7h5.2v5.2h-5.2zM416.7 67.7h5.2v5.2h-5.2zM176.7 72.7h5.2v5.2h-5.2zM421.7 72.7h5.2v5.2h-5.2zM171.7 77.7h5.2v5.2h-5.2zM421.7 77.7h10.2v5.2h-10.2zM171.7 82.7h5.2v5.2h-5.2zM426.7 82.7h5.2v5.2h-5.2zM166.7 87.7h5.2v5.2h-5.2zM426.7 87.7h5.2v5.2h-5.2zM161.7 92.7h10.2v5.2h-10.2zM431.7 92.7h5.2v5.2h-5.2zM166.7 97.7h5.2v5.2h-5.2zM431.7 97.7h5.2v5.2h-5.2zM151.7 102.7h10.2v5.2h-10.2zM436.7 102.7h10.2v5.2h-10.2zM146.7 107.7h10.2v5.2h-10.2zM441.7 107.7h5.2v5.2h-5.2zM146.7 112.7h5.2v5.2h-5.2zM446.7 112.7h5.2v5.2h-5.2zM141.7 117.7h5.2v5.2h-5.2zM451.7 117.7h5.2v5.2h-5.2zM136.7 122.7h5.2v5.2h-5.2zM456.7 122.7h5.2v5.2h-5.2zM131.7 127.7h5.2v5.2h-5.2zM126.7 132.7h5.2v5.2h-5.2zM466.7 132.7h5.2v5.2h-5.2zM121.7 137.7h5.2v5.2h-5.2zM466.7 137.7h5.2v5.2h-5.2zM116.7 142.7h10.2v5.2h-10.2zM466.7 142.7h5.2v5.2h-5.2zM106.7 147.7h5.2v5.2h-5.2zM101.7 152.7h5.2v5.2h-5.2zM476.7 152.7h5.2v5.2h-5.2zM96.7 157.7h5.2v5.2h-5.2zM91.7 162.7h5.2v5.2h-5.2zM91.7 167.7h5.2v5.2h-5.2z"/>
<path fill="#1079da" d="M351.7 102.7h5.2v5.2h-5.2zM356.7 107.7h20.2v5.2h-20.2zM371.7 112.7h10.2v5.2h-10.2zM386.7 117.7h5.2v5.2h-5.2zM201.7 122.7h5.2v5.2h-5.2zM391.7 122.7h5.2v5.2h-5.2zM191.7 127.7h10.2v5.2h-10.2zM396.7 127.7h5.2v5.2h-5.2zM191.7 132.7h5.2v5.2h-5.2zM401.7 132.7h5.2v5.2h-5.2zM186.7 137.7h5.2v5.2h-5.2zM406.7 137.7h5.2v5.2h-5.2zM181.7 142.7h10.2v5.2h-10.2zM406.7 142.7h5.2v5.2h-5.2zM176.7 147.7h10.2v5.2h-10.2zM411.7 147.7h5.2v5.2h-5.2zM176.7 152.7h5.2v5.2h-5.2zM411.7 152.7h10.2v5.2h-10.2zM171.7 157.7h5.2v5.2h-5.2zM416.7 157.7h5.2v5.2h-5.2zM171.7 162.7h5.2v5.2h-5.2zM416.7 162.7h5.2v5.2h-5.2zM171.7 167.7h5.2v5.2h-5.2zM416.7 167.7h5.2v5.2h-5.2zM171.7 172.7h5.2v5.2h-5.2zM416.7 172.7h5.2v5.2h-5.2zM171.7 177.7h5.2v5.2h-5.2zM166.7 182.7h10.2v5.2h-10.2zM166.7 187.7h10.2v5.2h-10.2zM416.7 187.7h5.2v5.2h-5.2zM171.7 192.7h5.2v5.2h-5.2zM416.7 192.7h5.2v5.2h-5.2zM166.7 197.7h10.2v5.2h-10.2zM421.7 197.7h5.2v5.2h-5.2zM166.7 202.7h5.2v5.2h-5.2zM416.7 202.7h10.2v5.2h-10.2zM166.7 207.7h5.2v5.2h-5.2zM416.7 207.7h10.2v5.2h-10.2zM161.7 212.7h10.2v5.2h-10.2zM416.7 212.7h10.2v5.2h-10.2zM166.7 217.7h5.2v5.2h-5.2zM421.7 217.7h5.2v5.2h-5.2zM161.7 222.7h10.2v5.2h-10.2zM421.7 222.7h10.2v5.2h-10.2zM161.7 227.7h5.2v5.2h-5.2zM426.7 227.7h10.2v5.2h-10.2zM151.7 232.7h15.2v5.2h-15.2zM426.7 232.7h10.2v5.2h-10.2zM156.7 237.7h5.2v5.2h-5.2zM431.7 237.7h5.2v5.2h-5.2zM436.7 242.7h5.2v5.2h-5.2zM146.7 247.7h15.2v5.2h-15.2zM436.7 247.7h10.2v5.2h-10.2zM141.7 252.7h10.2v5.2h-10.2zM126.7 257.7h15.2v5.2h-15.2zM446.7 257.7h5.2v5.2h-5.2zM116.7 262.7h5.2v5.2h-5.2zM461.7 262.7h10.2v5.2h-10.2zM106.7 267.7h15.2v5.2h-15.2zM101.7 272.7h25.2v5.2h-25.2zM101.7 277.7h10.2v5.2h-10.2zM91.7 282.7h15.2v5.2h-15.2zM91.7 287.7h5.2v5.2h-5.2z"/>
<path fill="#108ed2" d="M371.7 62.7h5.2v5.2h-5.2zM361.7 72.7h15.2v5.2h-15.2zM221.7 77.7h5.2v5.2h-5.2zM351.7 77.7h15.2v5.2h-15.2zM371.7 77.7h5.2v5.2h-5.2zM221.7 82.7h10.2v5.2h-10.2zM341.7 82.7h10.2v5.2h-10.2zM216.7 87.7h20.2v5.2h-20.2zM241.7 87.7h5.2v5.2h-5.2zM251.7 87.7h5.2v5.2h-5.2zM321.7 87.7h25.2v5.2h-25.2zM381.7 87.7h5.2v5.2h-5.2zM206.7 92.7h10.2v5.2h-10.2zM386.7 92.7h5.2v5.2h-5.2zM206.7 97.7h10.2v5.2h-10.2zM201.7 102.7h5.2v5.2h-5.2zM396.7 102.7h5.2v5.2h-5.2zM191.7 107.7h5.2v5.2h-5.2zM401.7 107.7h5.2v5.2h-5.2zM186.7 112.7h5.2v5.2h-5.2zM406.7 112.7h5.2v5.2h-5.2zM186.7 117.7h5.2v5.2h-5.2zM411.7 117.7h5.2v5.2h-5.2zM416.7 122.7h5.2v5.2h-5.2zM421.7 127.7h5.2v5.2h-5.2zM421.7 132.7h5.2v5.2h-5.2zM426.7 137.7h5.2v5.2h-5.2zM161.7 142.7h5.2v5.2h-5.2zM426.7 142.7h5.2v5.2h-5.2zM156.7 147.7h5.2v5.2h-5.2zM151.7 152.7h5.2v5.2h-5.2zM431.7 152.7h5.2v5.2h-5.2zM146.7 157.7h5.2v5.2h-5.2zM436.7 157.7h5.2v5.2h-5.2zM146.7 162.7h5.2v5.2h-5.2zM436.7 167.7h5.2v5.2h-5.2zM141.7 172.7h10.2v5.2h-10.2zM436.7 172.7h5.2v5.2h-5.2zM436.7 177.7h10.2v5.2h-10.2zM136.7 182.7h5.2v5.2h-5.2zM436.7 182.7h5.2v5.2h-5.2zM136.7 187.7h5.2v5.2h-5.2zM131.7 192.7h10.2v5.2h-10.2zM436.7 192.7h10.2v5.2h-10.2zM441.7 197.7h5.2v5.2h-5.2zM126.7 202.7h10.2v5.2h-10.2zM126.7 207.7h10.2v5.2h-10.2zM446.7 207.7h5.2v5.2h-5.2zM121.7 212.7h10.2v5.2h-10.2zM446.7 212.7h5.2v5.2h-5.2zM121.7 217.7h15.2v5.2h-15.2zM446.7 217.7h5.2v5.2h-5.2zM116.7 222.7h15.2v5.2h-15.2zM451.7 222.7h5.2v5.2h-5.2zM116.7 227.7h10.2v5.2h-10.2zM111.7 232.7h10.2v5.2h-10.2zM456.7 232.7h5.2v5.2h-5.2zM111.7 237.7h10.2v5.2h-10.2zM456.7 237.7h5.2v5.2h-5.2zM101.7 242.7h10.2v5.2h-10.2zM461.7 242.7h10.2v5.2h-10.2zM91.7 247.7h20.2v5.2h-20.2zM461.7 247.7h15.2v5.2h-15.2zM91.7 252.7h10.2v5.2h-10.2zM471.7 252.7h10.2v5.2h-10.2z"/>
<path fill="#127dd8" d="M341.7 97.7h10.2v5.2h-10.2zM356.7 97.7h5.2v5.2h-5.2zM356.7 102.7h15.2v5.2h-15.2zM376.7 107.7h5.2v5.2h-5.2zM211.7 112.7h5.2v5.2h-5.2zM381.7 112.7h10.2v5.2h-10.2zM201.7 117.7h10.2v5.2h-10.2zM391.7 117.7h5.2v5.2h-5.2zM396.7 122.7h10.2v5.2h-10.2zM186.7 127.7h5.2v5.2h-5.2zM401.7 127.7h5.2v5.2h-5.2zM186.7 132.7h5.2v5.2h-5.2zM406.7 132.7h5.2v5.2h-5.2zM181.7 137.7h5.2v5.2h-5.2zM411.7 137.7h5.2v5.2h-5.2zM411.7 142.7h5.2v5.2h-5.2zM416.7 147.7h5.2v5.2h-5.2zM171.7 152.7h5.2v5.2h-5.2zM166.7 157.7h5.2v5.2h-5.2zM421.7 157.7h5.2v5.2h-5.2zM166.7 162.7h5.2v5.2h-5.2zM421.7 162.7h5.2v5.2h-5.2zM166.7 167.7h5.2v5.2h-5.2zM421.7 167.7h5.2v5.2h-5.2zM166.7 172.7h5.2v5.2h-5.2zM421.7 172.7h5.2v5.2h-5.2zM166.7 177.7h5.2v5.2h-5.2zM421.7 177.7h5.2v5.2h-5.2zM161.7 182.7h5.2v5.2h-5.2zM421.7 182.7h5.2v5.2h-5.2zM161.7 187.7h5.2v5.2h-5.2zM421.7 187.7h5.2v5.2h-5.2zM161.7 192.7h10.2v5.2h-10.2zM421.7 192.7h10.2v5.2h-10.2zM161.7 197.7h5.2v5.2h-5.2zM156.7 202.7h10.2v5.2h-10.2zM161.7 207.7h5.2v5.2h-5.2zM426.7 207.7h5.2v5.2h-5.2zM156.7 212.7h5.2v5.2h-5.2zM426.7 212.7h5.2v5.2h-5.2zM156.7 217.7h10.2v5.2h-10.2zM426.7 217.7h10.2v5.2h-10.2zM156.7 222.7h5.2v5.2h-5.2zM431.7 222.7h5.2v5.2h-5.2zM151.7 227.7h10.2v5.2h-10.2zM436.7 227.7h5.2v5.2h-5.2zM436.7 232.7h5.2v5.2h-5.2zM146.7 237.7h10.2v5.2h-10.2zM436.7 237.7h5.2v5.2h-5.2zM146.7 242.7h10.2v5.2h-10.2zM441.7 242.7h5.2v5.2h-5.2zM141.7 247.7h5.2v5.2h-5.2zM446.7 247.7h5.2v5.2h-5.2zM126.7 252.7h15.2v5.2h-15.2zM446.7 252.7h5.2v5.2h-5.2zM116.7 257.7h10.2v5.2h-10.2zM451.7 257.7h5.2v5.2h-5.2zM106.7 262.7h10.2v5.2h-10.2zM471.7 262.7h10.2v5.2h-10.2zM101.7 267.7h5.2v5.2h-5.2zM91.7 272.7h10.2v5.2h-10.2zM91.7 277.7h10.2v5.2h-10.2z"/>
<path fill="#1389d3" d="M366.7 77.7h5.2v5.2h-5.2zM351.7 82.7h30.2v5.2h-30.2zM376.7 87.7h5.2v5.2h-5.2zM216.7 92.7h30.2v5.2h-30.2zM331.7 92.7h5.2v5.2h-5.2zM381.7 92.7h5.2v5.2h-5.2zM216.7 97.7h20.2v5.2h-20.2zM381.7 97.7h10.2v5.2h-10.2zM206.7 102.7h5.2v5.2h-5.2zM386.7 102.7h10.2v5.2h-10.2zM196.7 107.7h5.2v5.2h-5.2zM206.7 107.7h5.2v5.2h-5.2zM396.7 107.7h5.2v5.2h-5.2zM191.7 112.7h5.2v5.2h-5.2zM401.7 112.7h5.2v5.2h-5.2zM406.7 117.7h5.2v5.2h-5.2zM181.7 122.7h5.2v5.2h-5.2zM176.7 127.7h5.2v5.2h-5.2zM416.7 127.7h5.2v5.2h-5.2zM171.7 132.7h5.2v5.2h-5.2zM416.7 132.7h5.2v5.2h-5.2zM166.7 137.7h10.2v5.2h-10.2zM421.7 137.7h5.2v5.2h-5.2zM166.7 142.7h5.2v5.2h-5.2zM161.7 147.7h5.2v5.2h-5.2zM426.7 147.7h5.2v5.2h-5.2zM156.7 152.7h5.2v5.2h-5.2zM426.7 152.7h5.2v5.2h-5.2zM151.7 157.7h5.2v5.2h-5.2zM431.7 157.7h5.2v5.2h-5.2zM431.7 162.7h10.2v5.2h-10.2zM146.7 167.7h10.2v5.2h-10.2zM431.7 167.7h5.2v5.2h-5.2zM431.7 172.7h5.2v5.2h-5.2zM141.7 177.7h10.2v5.2h-10.2zM141.7 182.7h10.2v5.2h-10.2zM436.7 187.7h5.2v5.2h-5.2zM141.7 192.7h10.2v5.2h-10.2zM131.7 197.7h15.2v5.2h-15.2zM436.7 197.7h5.2v5.2h-5.2zM136.7 202.7h15.2v5.2h-15.2zM441.7 202.7h5.2v5.2h-5.2zM136.7 207.7h5.2v5.2h-5.2zM441.7 207.7h5.2v5.2h-5.2zM131.7 212.7h10.2v5.2h-10.2zM441.7 212.7h5.2v5.2h-5.2zM131.7 222.7h5.2v5.2h-5.2zM446.7 222.7h5.2v5.2h-5.2zM126.7 227.7h5.2v5.2h-5.2zM451.7 227.7h5.2v5.2h-5.2zM121.7 232.7h10.2v5.2h-10.2zM451.7 232.7h5.2v5.2h-5.2zM121.7 237.7h10.2v5.2h-10.2zM451.7 237.7h5.2v5.2h-5.2zM111.7 242.7h10.2v5.2h-10.2zM111.7 247.7h5.2v5.2h-5.2zM101.7 252.7h5.2v5.2h-5.2zM461.7 252.7h10.2v5.2h-10.2zM91.7 257.7h15.2v5.2h-15.2zM476.7 257.7h5.2v5.2h-5.2z"/>
<path fill="#1481d6" d="M346.7 92.7h20.2v5.2h-20.2zM351.7 97.7h5.2v5.2h-5.2zM361.7 97.7h10.2v5.2h-10.2zM371.7 102.7h10.2v5.2h-10.2zM211.7 107.7h10.2v5.2h-10.2zM381.7 107.7h10.2v5.2h-10.2zM201.7 112.7h10.2v5.2h-10.2zM391.7 112.7h10.2v5.2h-10.2zM196.7 117.7h5.2v5.2h-5.2zM396.7 117.7h10.2v5.2h-10.2zM191.7 122.7h10.2v5.2h-10.2zM406.7 127.7h5.2v5.2h-5.2zM181.7 132.7h5.2v5.2h-5.2zM411.7 132.7h5.2v5.2h-5.2zM176.7 137.7h5.2v5.2h-5.2zM176.7 142.7h5.2v5.2h-5.2zM416.7 142.7h5.2v5.2h-5.2zM171.7 147.7h5.2v5.2h-5.2zM421.7 147.7h5.2v5.2h-5.2zM166.7 152.7h5.2v5.2h-5.2zM421.7 152.7h5.2v5.2h-5.2zM161.7 157.7h5.2v5.2h-5.2zM161.7 162.7h5.2v5.2h-5.2zM156.7 167.7h10.2v5.2h-10.2zM426.7 167.7h5.2v5.2h-5.2zM156.7 172.7h10.2v5.2h-10.2zM161.7 177.7h5.2v5.2h-5.2zM426.7 177.7h5.2v5.2h-5.2zM156.7 182.7h5.2v5.2h-5.2zM426.7 182.7h5.2v5.2h-5.2zM156.7 187.7h5.2v5.2h-5.2zM426.7 187.7h5.2v5.2h-5.2zM151.7 192.7h10.2v5.2h-10.2zM431.7 192.7h5.2v5.2h-5.2zM156.7 197.7h5.2v5.2h-5.2zM426.7 197.7h5.2v5.2h-5.2zM151.7 202.7h5.2v5.2h-5.2zM426.7 202.7h10.2v5.2h-10.2zM151.7 207.7h10.2v5.2h-10.2zM431.7 207.7h10.2v5.2h-10.2zM151.7 212.7h5.2v5.2h-5.2zM431.7 212.7h5.2v5.2h-5.2zM146.7 217.7h10.2v5.2h-10.2zM436.7 217.7h5.2v5.2h-5.2zM146.7 222.7h10.2v5.2h-10.2zM436.7 222.7h5.2v5.2h-5.2zM146.7 227.7h5.2v5.2h-5.2zM141.7 232.7h10.2v5.2h-10.2zM441.7 232.7h5.2v5.2h-5.2zM136.7 237.7h10.2v5.2h-10.2zM441.7 237.7h10.2v5.2h-10.2zM131.7 242.7h15.2v5.2h-15.2zM446.7 242.7h5.2v5.2h-5.2zM126.7 247.7h15.2v5.2h-15.2zM451.7 247.7h5.2v5.2h-5.2zM116.7 252.7h10.2v5.2h-10.2zM451.7 252.7h10.2v5.2h-10.2zM111.7 257.7h5.2v5.2h-5.2zM456.7 257.7h15.2v5.2h-15.2zM96.7 262.7h10.2v5.2h-10.2zM91.7 267.7h10.2v5.2h-10.2z"/>
<path fill="#1485d4" d="M346.7 87.7h30.2v5.2h-30.2zM336.7 92.7h10.2v5.2h-10.2zM366.7 92.7h15.2v5.2h-15.2zM371.7 97.7h10.2v5.2h-10.2zM211.7 102.7h15.2v5.2h-15.2zM381.7 102.7h5.2v5.2h-5.2zM201.7 107.7h5.2v5.2h-5.2zM391.7 107.7h5.2v5.2h-5.2zM196.7 112.7h5.2v5.2h-5.2zM191.7 117.7h5.2v5.2h-5.2zM186.7 122.7h5.2v5.2h-5.2zM406.7 122.7h10.2v5.2h-10.2zM181.7 127.7h5.2v5.2h-5.2zM411.7 127.7h5.2v5.2h-5.2zM176.7 132.7h5.2v5.2h-5.2zM416.7 137.7h5.2v5.2h-5.2zM171.7 142.7h5.2v5.2h-5.2zM421.7 142.7h5.2v5.2h-5.2zM166.7 147.7h5.2v5.2h-5.2zM161.7 152.7h5.2v5.2h-5.2zM156.7 157.7h5.2v5.2h-5.2zM426.7 157.7h5.2v5.2h-5.2zM151.7 162.7h10.2v5.2h-10.2zM426.7 162.7h5.2v5.2h-5.2zM151.7 172.7h5.2v5.2h-5.2zM426.7 172.7h5.2v5.2h-5.2zM151.7 177.7h10.2v5.2h-10.2zM431.7 177.7h5.2v5.2h-5.2zM151.7 182.7h5.2v5.2h-5.2zM431.7 182.7h5.2v5.2h-5.2zM141.7 187.7h15.2v5.2h-15.2zM431.7 187.7h5.2v5.2h-5.2zM146.7 197.7h10.2v5.2h-10.2zM431.7 197.7h5.2v5.2h-5.2zM436.7 202.7h5.2v5.2h-5.2zM141.7 207.7h10.2v5.2h-10.2zM141.7 212.7h10.2v5.2h-10.2zM436.7 212.7h5.2v5.2h-5.2zM136.7 217.7h10.2v5.2h-10.2zM441.7 217.7h5.2v5.2h-5.2zM136.7 222.7h10.2v5.2h-10.2zM441.7 222.7h5.2v5.2h-5.2zM131.7 227.7h15.2v5.2h-15.2zM441.7 227.7h10.2v5.2h-10.2zM131.7 232.7h10.2v5.2h-10.2zM446.7 232.7h5.2v5.2h-5.2zM131.7 237.7h5.2v5.2h-5.2zM121.7 242.7h10.2v5.2h-10.2zM451.7 242.7h10.2v5.2h-10.2zM116.7 247.7h10.2v5.2h-10.2zM456.7 247.7h5.2v5.2h-5.2zM106.7 252.7h10.2v5.2h-10.2zM106.7 257.7h5.2v5.2h-5.2zM471.7 257.7h5.2v5.2h-5.2zM91.7 262.7h5.2v5.2h-5.2z"/>
<path fill="#15b1b4" d="M176.7 9h10.2v3.9h-10.2zM266.7 9h20.2v3.9h-20.2zM291.7 9h30.2v3.9h-30.2zM326.7 9h5.2v3.9h-5.2zM411.7 9h5.2v3.9h-5.2zM271.7 12.7h55.2v5.2h-55.2zM411.7 12.7h10.2v5.2h-10.2zM176.7 17.7h10.2v5.2h-10.2zM276.7 17.7h5.2v5.2h-5.2zM291.7 17.7h5.2v5.2h-5.2zM311.7 17.7h15.2v5.2h-15.2zM411.7 17.7h5.2v5.2h-5.2zM176.7 22.7h5.2v5.2h-5.2zM291.7 22.7h5.2v5.2h-5.2zM416.7 22.7h5.2v5.2h-5.2zM176.7 27.7h10.2v5.3h-10.2zM291.7 27.7h5.2v5.3h-5.2zM301.7 27.7h5.2v5.3h-5.2zM416.7 27.7h5.2v5.3h-5.2zM176.7 32.7h5.2v5.2h-5.2zM416.7 32.7h10.2v5.2h-10.2zM176.7 37.7h5.2v5.2h-5.2zM176.7 42.7h5.2v5.2h-5.2zM416.7 42.7h5.2v5.2h-5.2zM176.7 47.7h5.2v5.2h-5.2zM421.7 47.7h5.2v5.2h-5.2zM171.7 52.7h10.2v5.2h-10.2zM421.7 52.7h5.2v5.2h-5.2zM171.7 57.7h5.2v5.2h-5.2zM416.7 57.7h10.2v5.2h-10.2zM171.7 62.7h10.2v5.2h-10.2zM421.7 62.7h5.2v5.2h-5.2zM171.7 67.7h5.2v5.2h-5.2zM421.7 67.7h10.2v5.2h-10.2zM166.7 72.7h10.2v5.2h-10.2zM166.7 77.7h5.2v5.2h-5.2zM161.7 82.7h10.2v5.2h-10.2zM431.7 82.7h5.2v5.2h-5.2zM161.7 87.7h5.2v5.2h-5.2zM431.7 87.7h5.2v5.2h-5.2zM156.7 92.7h5.2v5.2h-5.2zM436.7 92.7h5.2v5.2h-5.2zM151.7 97.7h15.2v5.2h-15.2zM436.7 97.7h5.2v5.2h-5.2zM141.7 107.7h5.2v5.2h-5.2zM446.7 107.7h5.2v5.2h-5.2zM141.7 112.7h5.2v5.2h-5.2zM451.7 112.7h10.2v5.2h-10.2zM136.7 117.7h5.2v5.2h-5.2zM456.7 117.7h5.2v5.2h-5.2zM131.7 122.7h5.2v5.2h-5.2zM461.7 122.7h5.2v5.2h-5.2zM126.7 127.7h5.2v5.2h-5.2zM461.7 127.7h10.2v5.2h-10.2zM121.7 132.7h5.2v5.2h-5.2zM116.7 137.7h5.2v5.2h-5.2zM471.7 137.7h5.2v5.2h-5.2zM111.7 142.7h5.2v5.2h-5.2zM471.7 142.7h5.2v5.2h-5.2zM101.7 147.7h5.2v5.2h-5.2zM476.7 147.7h5.2v5.2h-5.2zM96.7 152.7h5.2v5.2h-5.2zM91.7 157.7h5.2v5.2h-5.2z"/>
<path fill="#1db3af" d="M171.7 9h5.2v3.9h-5.2zM286.7 9h5.2v3.9h-5.2zM416.7 9h5.2v3.9h-5.2zM176.7 12.7h5.2v5.2h-5.2zM421.7 12.7h5.2v5.2h-5.2zM416.7 17.7h5.2v5.2h-5.2zM171.7 22.7h5.2v5.2h-5.2zM421.7 22.7h5.2v5.2h-5.2zM171.7 27.7h5.2v5.3h-5.2zM421.7 27.7h5.2v5.3h-5.2zM171.7 32.7h5.2v5.2h-5.2zM166.7 37.7h10.2v5.2h-10.2zM421.7 37.7h10.2v5.2h-10.2zM171.7 42.7h5.2v5.2h-5.2zM421.7 42.7h5.2v5.2h-5.2zM166.7 47.7h10.2v5.2h-10.2zM426.7 47.7h5.2v5.2h-5.2zM166.7 52.7h5.2v5.2h-5.2zM426.7 52.7h5.2v5.2h-5.2zM161.7 57.7h10.2v5.2h-10.2zM426.7 57.7h5.2v5.2h-5.2zM166.7 62.7h5.2v5.2h-5.2zM426.7 62.7h5.2v5.2h-5.2zM161.7 67.7h10.2v5.2h-10.2zM161.7 72.7h5.2v5.2h-5.2zM426.7 72.7h10.2v5.2h-10.2zM161.7 77.7h5.2v5.2h-5.2zM431.7 77.7h5.2v5.2h-5.2zM156.7 82.7h5.2v5.2h-5.2zM436.7 82.7h5.2v5.2h-5.2zM156.7 87.7h5.2v5.2h-5.2zM436.7 87.7h5.2v5.2h-5.2zM146.7 92.7h10.2v5.2h-10.2zM441.7 92.7h5.2v5.2h-5.2zM441.7 97.7h5.2v5.2h-5.2zM141.7 102.7h10.2v5.2h-10.2zM446.7 102.7h5.2v5.2h-5.2zM136.7 107.7h5.2v5.2h-5.2zM451.7 107.7h10.2v5.2h-10.2zM131.7 112.7h10.2v5.2h-10.2zM126.7 117.7h10.2v5.2h-10.2zM461.7 117.7h5.2v5.2h-5.2zM126.7 122.7h5.2v5.2h-5.2zM466.7 122.7h5.2v5.2h-5.2zM471.7 127.7h5.2v5.2h-5.2zM471.7 132.7h5.2v5.2h-5.2zM106.7 137.7h10.2v5.2h-10.2zM476.7 137.7h5.2v5.2h-5.2zM101.7 142.7h10.2v5.2h-10.2zM476.7 142.7h5.2v5.2h-5.2zM91.7 152.7h5.2v5.2h-5.2z"/>
<path fill="#2053d4" d="M391.7 247.7h15.2v5.2h-15.2zM411.7 252.7h5.2v5.2h-5.2zM416.7 257.7h5.2v5.2h-5.2zM181.7 262.7h15.2v5.2h-15.2zM181.7 267.7h15.2v5.2h-15.2zM441.7 267.7h5.2v5.2h-5.2zM131.7 272.7h5.2v5.2h-5.2zM166.7 272.7h5.2v5.2h-5.2zM371.7 272.7h5.2v5.2h-5.2zM456.7 272.7h15.2v5.2h-15.2zM116.7 282.7h5.2v5.2h-5.2zM116.7 287.7h10.2v5.2h-10.2zM131.7 297.7h5.2v3.2h-5.2zM141.7 297.7h35.2v3.2h-35.2zM186.7 297.7h15.2v3.2h-15.2zM211.7 297.7h25.2v3.2h-25.2zM431.7 297.7h5.2v3.2h-5.2z"/>
<path fill="#25b5a9" d="M421.7 9h10.2v3.9h-10.2zM166.7 12.7h10.2v5.2h-10.2zM166.7 17.7h10.2v5.2h-10.2zM421.7 17.7h10.2v5.2h-10.2zM161.7 22.7h10.2v5.2h-10.2zM166.7 27.7h5.2v5.3h-5.2zM426.7 27.7h5.2v5.3h-5.2zM166.7 32.7h5.2v5.2h-5.2zM426.7 32.7h5.2v5.2h-5.2zM161.7 37.7h5.2v5.2h-5.2zM161.7 42.7h10.2v5.2h-10.2zM426.7 42.7h5.2v5.2h-5.2zM161.7 47.7h5.2v5.2h-5.2zM431.7 47.7h5.2v5.2h-5.2zM161.7 52.7h5.2v5.2h-5.2zM431.7 52.7h5.2v5.2h-5.2zM431.7 57.7h5.2v5.2h-5.2zM156.7 62.7h10.2v5.2h-10.2zM431.7 62.7h5.2v5.2h-5.2zM151.7 67.7h10.2v5.2h-10.2zM431.7 67.7h10.2v5.2h-10.2zM151.7 72.7h10.2v5.2h-10.2zM436.7 72.7h5.2v5.2h-5.2zM151.7 77.7h10.2v5.2h-10.2zM436.7 77.7h5.2v5.2h-5.2zM146.7 82.7h10.2v5.2h-10.2zM146.7 87.7h10.2v5.2h-10.2zM441.7 87.7h5.2v5.2h-5.2zM446.7 92.7h5.2v5.2h-5.2zM141.7 97.7h10.2v5.2h-10.2zM446.7 97.7h5.2v5.2h-5.2zM136.7 102.7h5.2v5.2h-5.2zM451.7 102.7h5.2v5.2h-5.2zM131.7 107.7h5.2v5.2h-5.2zM461.7 112.7h5.2v5.2h-5.2zM121.7 117.7h5.2v5.2h-5.2zM466.7 117.7h5.2v5.2h-5.2zM121.7 122.7h5.2v5.2h-5.2zM471.7 122.7h10.2v5.2h-10.2zM116.7 127.7h10.2v5.2h-10.2zM476.7 127.7h5.2v5.2h-5.2zM111.7 132.7h10.2v5.2h-10.2zM476.7 132.7h5.2v5.2h-5.2zM101.7 137.7h5.2v5.2h-5.2zM96.7 142.7h5.2v5.2h-5.2zM96.7 147.7h5.2v5.2h-5.2z"/>
<path fill="#2c4ac7" d="M406.7 252.7h5.2v5.2h-5.2zM411.7 257.7h5.2v5.2h-5.2zM421.7 262.7h5.2v5.2h-5.2zM161.7 267.7h5.2v5.2h-5.2zM431.7 267.7h10.2v5.2h-10.2zM141.7 272.7h15.2v5.2h-15.2zM161.7 272.7h5.2v5.2h-5.2zM171.7 272.7h5.2v5.2h-5.2zM181.7 272.7h5.2v5.2h-5.2zM376.7 272.7h5.2v5.2h-5.2zM436.7 272.7h5.2v5.2h-5.2zM446.7 272.7h10.2v5.2h-10.2zM386.7 277.7h10.2v5.2h-10.2zM121.7 282.7h10.2v5.2h-10.2zM126.7 287.7h10.2v5.2h-10.2zM401.7 287.7h5.2v5.2h-5.2zM221.7 292.7h5.2v5.2h-5.2zM176.7 297.7h5.2v3.2h-5.2zM201.7 297.7h5.2v3.2h-5.2zM436.7 297.7h15.2v3.2h-15.2zM471.7 297.7h5.2v3.2h-5.2z"/>
<path fill="#2eb7a4" d="M166.7 9h5.2v3.9h-5.2zM431.7 9h5.2v3.9h-5.2zM426.7 12.7h10.2v5.2h-10.2zM161.7 17.7h5.2v5.2h-5.2zM431.7 17.7h5.2v5.2h-5.2zM426.7 22.7h10.2v5.2h-10.2zM156.7 27.7h5.2v5.3h-5.2zM431.7 27.7h5.2v5.3h-5.2zM161.7 32.7h5.2v5.2h-5.2zM431.7 32.7h5.2v5.2h-5.2zM156.7 37.7h5.2v5.2h-5.2zM431.7 37.7h5.2v5.2h-5.2zM156.7 42.7h5.2v5.2h-5.2zM431.7 42.7h5.2v5.2h-5.2zM156.7 47.7h5.2v5.2h-5.2zM151.7 52.7h10.2v5.2h-10.2zM436.7 52.7h5.2v5.2h-5.2zM151.7 57.7h10.2v5.2h-10.2zM436.7 57.7h5.2v5.2h-5.2zM151.7 62.7h5.2v5.2h-5.2zM436.7 62.7h5.2v5.2h-5.2zM146.7 67.7h5.2v5.2h-5.2zM146.7 72.7h5.2v5.2h-5.2zM441.7 72.7h5.2v5.2h-5.2zM146.7 77.7h5.2v5.2h-5.2zM441.7 77.7h5.2v5.2h-5.2zM141.7 82.7h5.2v5.2h-5.2zM441.7 82.7h5.2v5.2h-5.2zM136.7 87.7h10.2v5.2h-10.2zM446.7 87.7h5.2v5.2h-5.2zM136.7 92.7h10.2v5.2h-10.2zM131.7 97.7h10.2v5.2h-10.2zM451.7 97.7h5.2v5.2h-5.2zM131.7 102.7h5.2v5.2h-5.2zM456.7 102.7h5.2v5.2h-5.2zM126.7 107.7h5.2v5.2h-5.2zM461.7 107.7h10.2v5.2h-10.2zM121.7 112.7h10.2v5.2h-10.2zM466.7 112.7h5.2v5.2h-5.2zM471.7 117.7h10.2v5.2h-10.2zM116.7 122.7h5.2v5.2h-5.2zM111.7 127.7h5.2v5.2h-5.2zM106.7 132.7h5.2v5.2h-5.2zM91.7 142.7h5.2v5.2h-5.2zM91.7 147.7h5.2v5.2h-5.2z"/>
<path fill="#3243ba" d="M386.7 252.7h20.2v5.2h-20.2zM406.7 257.7h5.2v5.2h-5.2zM416.7 262.7h5.2v5.2h-5.2zM426.7 267.7h5.2v5.2h-5.2zM136.7 272.7h5.2v5.2h-5.2zM156.7 272.7h5.2v5.2h-5.2zM176.7 272.7h5.2v5.2h-5.2zM186.7 272.7h20.2v5.2h-20.2zM396.7 277.7h5.2v5.2h-5.2zM406.7 282.7h5.2v5.2h-5.2zM131.7 292.7h20.2v5.2h-20.2zM156.7 292.7h5.2v5.2h-5.2zM191.7 292.7h5.2v5.2h-5.2zM206.7 292.7h15.2v5.2h-15.2zM416.7 297.7h15.2v3.2h-15.2zM451.7 297.7h5.2v3.2h-5.2zM461.7 297.7h10.2v3.2h-10.2zM476.7 297.7h5.2v3.2h-5.2z"/>
<path fill="#352a87" d="M391.7 262.7h15.2v5.2h-15.2zM411.7 267.7h10.2v5.2h-10.2zM406.7 272.7h5.2v5.2h-5.2zM406.7 277.7h5.2v5.2h-5.2zM471.7 277.7h5.2v5.2h-5.2zM151.7 282.7h30.2v5.2h-30.2zM191.7 282.7h5.2v5.2h-5.2zM471.7 282.7h5.2v5.2h-5.2zM156.7 287.7h10.2v5.2h-10.2zM176.7 287.7h5.2v5.2h-5.2zM436.7 287.7h10.2v5.2h-10.2zM471.7 287.7h5.2v5.2h-5.2z"/>
<path fill="#353dad" d="M401.7 257.7h5.2v5.2h-5.2zM411.7 262.7h5.2v5.2h-5.2zM376.7 267.7h5.2v5.2h-5.2zM421.7 267.7h5.2v5.2h-5.2zM381.7 272.7h5.2v5.2h-5.2zM426.7 272.7h10.2v5.2h-10.2zM441.7 272.7h5.2v5.2h-5.2zM131.7 277.7h15.2v5.2h-15.2zM151.7 277.7h15.2v5.2h-15.2zM171.7 277.7h25.2v5.2h-25.2zM201.7 277.7h10.2v5.2h-10.2zM446.7 277.7h5.2v5.2h-5.2zM151.7 292.7h5.2v5.2h-5.2zM181.7 292.7h10.2v5.2h-10.2zM196.7 292.7h5.2v5.2h-5.2zM406.7 292.7h10.2v5.2h-10.2zM476.7 292.7h5.2v5.2h-5.2zM456.7 297.7h5.2v3.2h-5.2z"/>
<path fill="#363093" d="M381.7 262.7h10.2v5.2h-10.2zM406.7 262.7h5.2v5.2h-5.2zM386.7 267.7h5.2v5.2h-5.2zM401.7 267.7h10.2v5.2h-10.2zM411.7 272.7h5.2v5.2h-5.2zM421.7 272.7h5.2v5.2h-5.2zM421.7 277.7h5.2v5.2h-5.2zM466.7 277.7h5.2v5.2h-5.2zM476.7 277.7h5.2v5.2h-5.2zM136.7 282.7h15.2v5.2h-15.2zM181.7 282.7h5.2v5.2h-5.2zM196.7 282.7h5.2v5.2h-5.2zM206.7 282.7h5.2v5.2h-5.2zM416.7 282.7h35.2v5.2h-35.2zM466.7 282.7h5.2v5.2h-5.2zM141.7 287.7h15.2v5.2h-15.2zM166.7 287.7h10.2v5.2h-10.2zM181.7 287.7h5.2v5.2h-5.2zM196.7 287.7h5.2v5.2h-5.2zM411.7 287.7h5.2v5.2h-5.2zM421.7 287.7h10.2v5.2h-10.2zM456.7 287.7h15.2v5.2h-15.2zM166.7 292.7h15.2v5.2h-15.2zM416.7 292.7h15.2v5.2h-15.2zM441.7 292.7h15.2v5.2h-15.2zM466.7 292.7h5.2v5.2h-5.2z"/>
<path fill="#3637a0" d="M386.7 257.7h15.2v5.2h-15.2zM381.7 267.7h5.2v5.2h-5.2zM391.7 267.7h10.2v5.2h-10.2zM386.7 272.7h20.2v5.2h-20.2zM416.7 272.7h5.2v5.2h-5.2zM146.7 277.7h5.2v5.2h-5.2zM166.7 277.7h5.2v5.2h-5.2zM196.7 277.7h5.2v5.2h-5.2zM401.7 277.7h5.2v5.2h-5.2zM411.7 277.7h10.2v5.2h-10.2zM426.7 277.7h20.2v5.2h-20.2zM451.7 277.7h15.2v5.2h-15.2zM131.7 282.7h5.2v5.2h-5.2zM186.7 282.7h5.2v5.2h-5.2zM201.7 282.7h5.2v5.2h-5.2zM211.7 282.7h5.2v5.2h-5.2zM411.7 282.7h5.2v5.2h-5.2zM451.7 282.7h15.2v5.2h-15.2zM476.7 282.7h5.2v5.2h-5.2zM136.7 287.7h5.2v5.2h-5.2zM186.7 287.7h10.2v5.2h-10.2zM201.7 287.7h20.2v5.2h-20.2zM406.7 287.7h5.2v5.2h-5.2zM416.7 287.7h5.2v5.2h-5.2zM431.7 287.7h5.2v5.2h-5.2zM446.7 287.7h10.2v5.2h-10.2zM476.7 287.7h5.2v5.2h-5.2zM161.7 292.7h5.2v5.2h-5.2zM201.7 292.7h5.2v5.2h-5.2zM431.7 292.7h10.2v5.2h-10.2zM456.7 292.7h10.2v5.2h-10.2zM471.7 292.7h5.2v5.2h-5.2z"/>
<path fill="#38b99e" d="M161.7 9h5.2v3.9h-5.2zM436.7 9h5.2v3.9h-5.2zM156.7 12.7h10.2v5.2h-10.2zM436.7 12.7h5.2v5.2h-5.2zM156.7 17.7h5.2v5.2h-5.2zM436.7 17.7h5.2v5.2h-5.2zM151.7 22.7h10.2v5.2h-10.2zM436.7 22.7h5.2v5.2h-5.2zM151.7 27.7h5.2v5.3h-5.2zM161.7 27.7h5.2v5.3h-5.2zM436.7 27.7h5.2v5.3h-5.2zM151.7 32.7h10.2v5.2h-10.2zM436.7 32.7h5.2v5.2h-5.2zM151.7 37.7h5.2v5.2h-5.2zM151.7 42.7h5.2v5.2h-5.2zM436.7 42.7h5.2v5.2h-5.2zM151.7 47.7h5.2v5.2h-5.2zM436.7 47.7h5.2v5.2h-5.2zM146.7 57.7h5.2v5.2h-5.2zM146.7 62.7h5.2v5.2h-5.2zM441.7 62.7h5.2v5.2h-5.2zM141.7 67.7h5.2v5.2h-5.2zM441.7 67.7h5.2v5.2h-5.2zM141.7 72.7h5.2v5.2h-5.2zM446.7 72.7h5.2v5.2h-5.2zM136.7 77.7h10.2v5.2h-10.2zM136.7 82.7h5.2v5.2h-5.2zM446.7 82.7h5.2v5.2h-5.2zM131.7 87.7h5.2v5.2h-5.2zM451.7 87.7h5.2v5.2h-5.2zM131.7 92.7h5.2v5.2h-5.2zM451.7 92.7h10.2v5.2h-10.2zM126.7 97.7h5.2v5.2h-5.2zM456.7 97.7h10.2v5.2h-10.2zM126.7 102.7h5.2v5.2h-5.2zM461.7 102.7h5.2v5.2h-5.2zM471.7 107.7h5.2v5.2h-5.2zM471.7 112.7h10.2v5.2h-10.2zM116.7 117.7h5.2v5.2h-5.2zM111.7 122.7h5.2v5.2h-5.2zM106.7 127.7h5.2v5.2h-5.2zM101.7 132.7h5.2v5.2h-5.2zM96.7 137.7h5.2v5.2h-5.2z"/>
<path fill="#42bb98" d="M151.7 9h10.2v3.9h-10.2zM441.7 9h5.2v3.9h-5.2zM151.7 12.7h5.2v5.2h-5.2zM441.7 12.7h5.2v5.2h-5.2zM151.7 17.7h5.2v5.2h-5.2zM441.7 17.7h5.2v5.2h-5.2zM146.7 27.7h5.2v5.3h-5.2zM146.7 32.7h5.2v5.2h-5.2zM441.7 32.7h5.2v5.2h-5.2zM141.7 37.7h10.2v5.2h-10.2zM436.7 37.7h5.2v5.2h-5.2zM141.7 42.7h10.2v5.2h-10.2zM441.7 42.7h5.2v5.2h-5.2zM141.7 47.7h10.2v5.2h-10.2zM441.7 47.7h5.2v5.2h-5.2zM141.7 52.7h10.2v5.2h-10.2zM441.7 52.7h5.2v5.2h-5.2zM141.7 57.7h5.2v5.2h-5.2zM441.7 57.7h5.2v5.2h-5.2zM141.7 62.7h5.2v5.2h-5.2zM446.7 62.7h5.2v5.2h-5.2zM136.7 67.7h5.2v5.2h-5.2zM451.7 67.7h5.2v5.2h-5.2zM131.7 72.7h10.2v5.2h-10.2zM131.7 77.7h5.2v5.2h-5.2zM446.7 77.7h10.2v5.2h-10.2zM131.7 82.7h5.2v5.2h-5.2zM451.7 82.7h10.2v5.2h-10.2zM126.7 87.7h5.2v5.2h-5.2zM456.7 87.7h5.2v5.2h-5.2zM126.7 92.7h5.2v5.2h-5.2zM461.7 92.7h5.2v5.2h-5.2zM466.7 97.7h5.2v5.2h-5.2zM116.7 102.7h10.2v5.2h-10.2zM466.7 102.7h10.2v5.2h-10.2zM111.7 107.7h15.2v5.2h-15.2zM476.7 107.7h5.2v5.2h-5.2zM106.7 112.7h15.2v5.2h-15.2zM106.7 117.7h10.2v5.2h-10.2zM106.7 122.7h5.2v5.2h-5.2zM101.7 127.7h5.2v5.2h-5.2zM96.7 132.7h5.2v5.2h-5.2zM91.7 137.7h5.2v5.2h-5.2z"/>
<path fill="#4dbc92" d="M146.7 9h5.2v3.9h-5.2zM446.7 9h15.2v3.9h-15.2zM146.7 12.7h5.2v5.2h-5.2zM446.7 12.7h5.2v5.2h-5.2zM141.7 17.7h10.2v5.2h-10.2zM446.7 17.7h5.2v5.2h-5.2zM141.7 22.7h10.2v5.2h-10.2zM441.7 22.7h10.2v5.2h-10.2zM141.7 27.7h5.2v5.3h-5.2zM441.7 27.7h5.2v5.3h-5.2zM141.7 32.7h5.2v5.2h-5.2zM136.7 37.7h5.2v5.2h-5.2zM441.7 37.7h5.2v5.2h-5.2zM136.7 42.7h5.2v5.2h-5.2zM136.7 47.7h5.2v5.2h-5.2zM136.7 52.7h5.2v5.2h-5.2zM446.7 52.7h5.2v5.2h-5.2zM131.7 57.7h10.2v5.2h-10.2zM446.7 57.7h10.2v5.2h-10.2zM131.7 62.7h10.2v5.2h-10.2zM126.7 67.7h10.2v5.2h-10.2zM446.7 67.7h5.2v5.2h-5.2zM126.7 72.7h5.2v5.2h-5.2zM451.7 72.7h5.2v5.2h-5.2zM121.7 77.7h10.2v5.2h-10.2zM456.7 77.7h5.2v5.2h-5.2zM121.7 82.7h10.2v5.2h-10.2zM121.7 87.7h5.2v5.2h-5.2zM461.7 87.7h5.2v5.2h-5.2zM121.7 92.7h5.2v5.2h-5.2zM466.7 92.7h5.2v5.2h-5.2zM111.7 97.7h15.2v5.2h-15.2zM471.7 97.7h5.2v5.2h-5.2zM111.7 102.7h5.2v5.2h-5.2zM476.7 102.7h5.2v5.2h-5.2zM106.7 107.7h5.2v5.2h-5.2zM101.7 117.7h5.2v5.2h-5.2zM101.7 122.7h5.2v5.2h-5.2zM96.7 127.7h5.2v5.2h-5.2zM91.7 132.7h5.2v5.2h-5.2z"/>
<path fill="#59bd8c" d="M141.7 9h5.2v3.9h-5.2zM141.7 12.7h5.2v5.2h-5.2zM451.7 12.7h10.2v5.2h-10.2zM451.7 17.7h5.2v5.2h-5.2zM136.7 27.7h5.2v5.3h-5.2zM446.7 27.7h5.2v5.3h-5.2zM136.7 32.7h5.2v5.2h-5.2zM446.7 32.7h5.2v5.2h-5.2zM131.7 37.7h5.2v5.2h-5.2zM446.7 37.7h5.2v5.2h-5.2zM131.7 42.7h5.2v5.2h-5.2zM446.7 42.7h5.2v5.2h-5.2zM131.7 47.7h5.2v5.2h-5.2zM446.7 47.7h10.2v5.2h-10.2zM126.7 52.7h10.2v5.2h-10.2zM451.7 52.7h5.2v5.2h-5.2zM126.7 57.7h5.2v5.2h-5.2zM126.7 62.7h5.2v5.2h-5.2zM451.7 62.7h5.2v5.2h-5.2zM121.7 67.7h5.2v5.2h-5.2zM456.7 67.7h5.2v5.2h-5.2zM116.7 72.7h10.2v5.2h-10.2zM456.7 72.7h5.2v5.2h-5.2zM116.7 77.7h5.2v5.2h-5.2zM461.7 77.7h10.2v5.2h-10.2zM111.7 82.7h10.2v5.2h-10.2zM461.7 82.7h10.2v5.2h-10.2zM111.7 87.7h10.2v5.2h-10.2zM466.7 87.7h5.2v5.2h-5.2zM111.7 92.7h10.2v5.2h-10.2zM471.7 92.7h10.2v5.2h-10.2zM106.7 97.7h5.2v5.2h-5.2zM476.7 97.7h5.2v5.2h-5.2zM106.7 102.7h5.2v5.2h-5.2zM101.7 107.7h5.2v5.2h-5.2zM96.7 112.7h10.2v5.2h-10.2zM96.7 117.7h5.2v5.2h-5.2zM96.7 122.7h5.2v5.2h-5.2zM91.7 127.7h5.2v5.2h-5.2z"/>
<path fill="#65be86" d="M136.7 9h5.2v3.9h-5.2zM461.7 9h10.2v3.9h-10.2zM131.7 12.7h10.2v5.2h-10.2zM136.7 17.7h5.2v5.2h-5.2zM456.7 17.7h10.2v5.2h-10.2zM131.7 22.7h10.2v5.2h-10.2zM451.7 22.7h5.2v5.2h-5.2zM131.7 27.7h5.2v5.3h-5.2zM451.7 27.7h5.2v5.3h-5.2zM131.7 32.7h5.2v5.2h-5.2zM451.7 32.7h5.2v5.2h-5.2zM126.7 37.7h5.2v5.2h-5.2zM126.7 42.7h5.2v5.2h-5.2zM451.7 42.7h5.2v5.2h-5.2zM126.7 47.7h5.2v5.2h-5.2zM456.7 47.7h5.2v5.2h-5.2zM121.7 52.7h5.2v5.2h-5.2zM116.7 57.7h10.2v5.2h-10.2zM456.7 57.7h5.2v5.2h-5.2zM116.7 62.7h10.2v5.2h-10.2zM456.7 62.7h5.2v5.2h-5.2zM116.7 67.7h5.2v5.2h-5.2zM461.7 67.7h5.2v5.2h-5.2zM111.7 72.7h5.2v5.2h-5.2zM461.7 72.7h5.2v5.2h-5.2zM111.7 77.7h5.2v5.2h-5.2zM471.7 77.7h5.2v5.2h-5.2zM101.7 82.7h10.2v5.2h-10.2zM471.7 82.7h5.2v5.2h-5.2zM101.7 87.7h10.2v5.2h-10.2zM471.7 87.7h10.2v5.2h-10.2zM101.7 92.7h10.2v5.2h-10.2zM101.7 97.7h5.2v5.2h-5.2zM101.7 102.7h5.2v5.2h-5.2zM91.7 107.7h10.2v5.2h-10.2zM91.7 112.7h5.2v5.2h-5.2zM91.7 117.7h5.2v5.2h-5.2zM91.7 122.7h5.2v5.2h-5.2z"/>
<path fill="#71bf80" d="M131.7 9h5.2v3.9h-5.2zM471.7 9h5.2v3.9h-5.2zM126.7 12.7h5.2v5.2h-5.2zM461.7 12.7h15.2v5.2h-15.2zM126.7 17.7h10.2v5.2h-10.2zM466.7 17.7h5.2v5.2h-5.2zM126.7 22.7h5.2v5.2h-5.2zM456.7 22.7h10.2v5.2h-10.2zM126.7 27.7h5.2v5.3h-5.2zM456.7 27.7h10.2v5.3h-10.2zM121.7 32.7h10.2v5.2h-10.2zM456.7 32.7h5.2v5.2h-5.2zM121.7 37.7h5.2v5.2h-5.2zM451.7 37.7h5.2v5.2h-5.2zM121.7 42.7h5.2v5.2h-5.2zM456.7 42.7h5.2v5.2h-5.2zM116.7 47.7h10.2v5.2h-10.2zM111.7 52.7h10.2v5.2h-10.2zM456.7 52.7h5.2v5.2h-5.2zM106.7 62.7h10.2v5.2h-10.2zM461.7 62.7h10.2v5.2h-10.2zM101.7 67.7h15.2v5.2h-15.2zM466.7 67.7h5.2v5.2h-5.2zM101.7 72.7h10.2v5.2h-10.2zM466.7 72.7h5.2v5.2h-5.2zM96.7 77.7h15.2v5.2h-15.2zM96.7 82.7h5.2v5.2h-5.2zM476.7 82.7h5.2v5.2h-5.2zM96.7 87.7h5.2v5.2h-5.2zM91.7 92.7h10.2v5.2h-10.2zM91.7 97.7h10.2v5.2h-10.2zM91.7 102.7h10.2v5.2h-10.2z"/>
<path fill="#7cbf7b" d="M126.7 9h5.2v3.9h-5.2zM476.7 9h5.2v3.9h-5.2zM121.7 12.7h5.2v5.2h-5.2zM476.7 12.7h5.2v5.2h-5.2zM116.7 17.7h10.2v5.2h-10.2zM471.7 17.7h5.2v5.2h-5.2zM121.7 22.7h5.2v5.2h-5.2zM466.7 22.7h5.2v5.2h-5.2zM121.7 27.7h5.2v5.3h-5.2zM116.7 32.7h5.2v5.2h-5.2zM461.7 32.7h5.2v5.2h-5.2zM116.7 37.7h5.2v5.2h-5.2zM456.7 37.7h5.2v5.2h-5.2zM116.7 42.7h5.2v5.2h-5.2zM461.7 42.7h5.2v5.2h-5.2zM111.7 47.7h5.2v5.2h-5.2zM461.7 47.7h5.2v5.2h-5.2zM106.7 52.7h5.2v5.2h-5.2zM461.7 52.7h10.2v5.2h-10.2zM106.7 57.7h10.2v5.2h-10.2zM461.7 57.7h10.2v5.2h-10.2zM101.7 62.7h5.2v5.2h-5.2zM96.7 67.7h5.2v5.2h-5.2zM471.7 67.7h10.2v5.2h-10.2zM96.7 72.7h5.2v5.2h-5.2zM471.7 72.7h10.2v5.2h-10.2zM91.7 77.7h5.2v5.2h-5.2zM476.7 77.7h5.2v5.2h-5.2zM91.7 82.7h5.2v5.2h-5.2zM91.7 87.7h5.2v5.2h-5.2z"/>
<path fill="#87bf77" d="M111.7 9h15.2v3.9h-15.2zM116.7 12.7h5.2v5.2h-5.2zM476.7 17.7h5.2v5.2h-5.2zM111.7 22.7h10.2v5.2h-10.2zM471.7 22.7h10.2v5.2h-10.2zM111.7 27.7h10.2v5.3h-10.2zM466.7 27.7h10.2v5.3h-10.2zM111.7 32.7h5.2v5.2h-5.2zM466.7 32.7h5.2v5.2h-5.2zM111.7 37.7h5.2v5.2h-5.2zM461.7 37.7h5.2v5.2h-5.2zM106.7 42.7h10.2v5.2h-10.2zM466.7 42.7h5.2v5.2h-5.2zM106.7 47.7h5.2v5.2h-5.2zM466.7 47.7h10.2v5.2h-10.2zM101.7 52.7h5.2v5.2h-5.2zM471.7 52.7h5.2v5.2h-5.2zM96.7 57.7h10.2v5.2h-10.2zM471.7 57.7h5.2v5.2h-5.2zM91.7 62.7h10.2v5.2h-10.2zM471.7 62.7h10.2v5.2h-10.2zM91.7 67.7h5.2v5.2h-5.2zM91.7 72.7h5.2v5.2h-5.2z"/>
<path fill="#92bf73" d="M106.7 9h5.2v3.9h-5.2zM106.7 12.7h10.2v5.2h-10.2zM101.7 17.7h15.2v5.2h-15.2zM106.7 22.7h5.2v5.2h-5.2zM101.7 27.7h10.2v5.3h-10.2zM476.7 27.7h5.2v5.3h-5.2zM101.7 32.7h10.2v5.2h-10.2zM471.7 32.7h5.2v5.2h-5.2zM101.7 37.7h10.2v5.2h-10.2zM466.7 37.7h5.2v5.2h-5.2zM471.7 42.7h5.2v5.2h-5.2zM96.7 47.7h10.2v5.2h-10.2zM91.7 52.7h10.2v5.2h-10.2zM476.7 52.7h5.2v5.2h-5.2zM91.7 57.7h5.2v5.2h-5.2zM476.7 57.7h5.2v5.2h-5.2z"/>
<path fill="#9cbf6f" d="M96.7 9h10.2v3.9h-10.2zM96.7 12.7h10.2v5.2h-10.2zM96.7 17.7h5.2v5.2h-5.2zM96.7 22.7h10.2v5.2h-10.2zM96.7 32.7h5.2v5.2h-5.2zM476.7 32.7h5.2v5.2h-5.2zM471.7 37.7h10.2v5.2h-10.2zM96.7 42.7h10.2v5.2h-10.2zM476.7 42.7h5.2v5.2h-5.2zM91.7 47.7h5.2v5.2h-5.2zM476.7 47.7h5.2v5.2h-5.2z"/>
<path fill="#a5be6b" d="M91.7 9h5.2v3.9h-5.2zM91.7 12.7h5.2v5.2h-5.2zM91.7 17.7h5.2v5.2h-5.2zM91.7 22.7h5.2v5.2h-5.2zM91.7 27.7h10.2v5.3h-10.2zM91.7 32.7h5.2v5.2h-5.2zM96.7 37.7h5.2v5.2h-5.2zM91.7 42.7h5.2v5.2h-5.2z"/>
<path fill="#aebe67" d="M91.7 37.7h5.2v5.2h-5.2z"/>
</g>
<clipPath id="ca"><rect x="91.7" y="9.0" width="390.0" height="291.6"/></clipPath>
<g clip-path="url(#ca)" fill="#fff" stroke="#fff" stroke-width="2.4" stroke-linejoin="round">
<path d="M86.7 12.7L98.8 12.6M98.8 11.3L104.9 12.6L98.8 14.0Z"/>
<path d="M101.7 12.7L113.6 12.6M113.6 11.3L119.6 12.6L113.6 13.9Z"/>
<path d="M116.7 12.7L128.3 12.6M128.3 11.3L134.2 12.5L128.3 13.9Z"/>
<path d="M131.7 12.7L143.0 12.6M143.0 11.3L148.7 12.5L143.0 13.8Z"/>
<path d="M146.7 12.7L157.6 12.6M157.6 11.4L163.1 12.5L157.6 13.8Z"/>
<path d="M161.7 12.7L172.2 12.5M172.2 11.4L177.5 12.5L172.2 13.7Z"/>
<path d="M176.7 12.7L186.8 12.5M186.8 11.4L191.9 12.4L186.8 13.6Z"/>
<path d="M191.7 12.7L201.2 12.5M201.1 11.5L206.0 12.4L201.2 13.6Z"/>
<path d="M206.7 12.7L215.0 12.5M215.0 11.6L219.4 12.4L215.1 13.5Z"/>
<path d="M221.7 12.7L228.9 12.5M228.9 11.7L232.6 12.5L228.9 13.4Z"/>
<path d="M236.7 12.7L244.9 12.5M244.8 11.6L249.1 12.5L244.9 13.5Z"/>
<path d="M251.7 12.7L261.0 12.6M261.0 11.5L265.7 12.5L261.0 13.6Z"/>
<path d="M266.7 12.7L276.6 12.6M276.6 11.5L281.7 12.6L276.6 13.7Z"/>
<path d="M281.7 12.7L291.7 12.7M291.7 11.6L296.8 12.7L291.7 13.8Z"/>
<path d="M296.7 12.7L306.7 12.7M306.7 11.6L311.8 12.8L306.7 13.9Z"/>
<path d="M311.7 12.7L321.7 12.8M321.7 11.7L326.8 12.8L321.7 13.9Z"/>
<path d="M326.7 12.7L336.6 12.8M336.6 11.7L341.7 12.9L336.6 13.9Z"/>
<path d="M341.7 12.7L351.0 12.8M351.0 11.8L355.7 12.9L351.0 13.9Z"/>
<path d="M356.7 12.7L364.7 12.8M364.7 11.9L368.8 12.9L364.6 13.7Z"/>
<path d="M371.7 12.7L378.9 12.8M378.9 12.0L382.6 12.9L378.9 13.6Z"/>
<path d="M386.7 12.7L394.9 12.8M394.9 11.9L399.1 12.9L394.8 13.7Z"/>
<path d="M401.7 12.7L411.0 12.8M411.0 11.7L415.7 12.8L411.0 13.8Z"/>
<path d="M416.7 12.7L426.8 12.5M426.8 11.4L431.9 12.4L426.8 13.6Z"/>
<path d="M431.7 12.7L442.2 12.2M442.1 11.0L447.5 12.0L442.2 13.4Z"/>
<path d="M446.7 12.7L457.5 11.9M457.4 10.7L463.0 11.5L457.6 13.1Z"/>
<path d="M461.7 12.7L472.8 11.6M472.7 10.4L478.4 11.0L472.9 12.8Z"/>
<path d="M476.7 12.7L488.0 11.6M487.9 10.3L493.8 11.0L488.2 12.8Z"/>
<path d="M86.7 27.7L98.9 27.6M98.9 26.3L105.0 27.6L98.9 29.0Z"/>
<path d="M101.7 27.7L113.6 27.6M113.6 26.3L119.6 27.6L113.6 28.9Z"/>
<path d="M116.7 27.7L128.3 27.6M128.3 26.3L134.1 27.5L128.3 28.9Z"/>
<path d="M131.7 27.7L142.9 27.6M142.9 26.3L148.6 27.5L142.9 28.8Z"/>
<path d="M146.7 27.7L157.5 27.5M157.5 26.3L163.0 27.4L157.5 28.7Z"/>
<path d="M161.7 27.7L172.1 27.5M172.1 26.3L177.4 27.4L172.1 28.7Z"/>
<path d="M176.7 27.7L186.7 27.5M186.7 26.3L191.8 27.3L186.7 28.6Z"/>
<path d="M191.7 27.7L201.0 27.4M201.0 26.4L205.8 27.3L201.0 28.5Z"/>
<path d="M206.7 27.7L214.9 27.4M214.9 26.5L219.1 27.3L214.9 28.4Z"/>
<path d="M221.7 27.7L228.9 27.5M228.8 26.6L232.6 27.4L228.9 28.3Z"/>
<path d="M236.7 27.7L244.8 27.5M244.7 26.6L248.9 27.4L244.8 28.4Z"/>
<path d="M251.7 27.7L260.8 27.5M260.8 26.5L265.5 27.4L260.8 28.5Z"/>
<path d="M266.7 27.7L276.4 27.6M276.4 26.5L281.4 27.5L276.5 28.7Z"/>
<path d="M281.7 27.7L291.6 27.7M291.6 26.6L296.6 27.6L291.6 28.8Z"/>
<path d="M296.7 27.7L306.6 27.7M306.6 26.6L311.6 27.8L306.6 28.8Z"/>
<path d="M311.7 27.7L321.6 27.8M321.6 26.7L326.6 27.9L321.5 28.9Z"/>
<path d="M326.7 27.7L336.4 27.9M336.4 26.8L341.4 28.0L336.4 29.0Z"/>
<path d="M341.7 27.7L350.7 27.9M350.7 26.9L355.3 28.0L350.7 28.9Z"/>
<path d="M356.7 27.7L364.5 27.9M364.5 27.0L368.5 28.0L364.5 28.8Z"/>
<path d="M371.7 27.7L378.8 27.9M378.8 27.0L382.5 27.9L378.7 28.7Z"/>
<path d="M386.7 27.7L394.7 27.9M394.7 27.0L398.8 27.9L394.6 28.8Z"/>
<path d="M401.7 27.7L410.8 27.8M410.8 26.8L415.5 27.9L410.8 28.8Z"/>
<path d="M416.7 27.7L426.7 27.5M426.7 26.4L431.8 27.5L426.7 28.7Z"/>
<path d="M431.7 27.7L442.1 27.2M442.1 26.1L447.4 27.0L442.2 28.4Z"/>
<path d="M446.7 27.7L457.6 26.9M457.5 25.7L463.1 26.5L457.7 28.1Z"/>
<path d="M461.7 27.7L473.0 26.6M472.9 25.3L478.8 26.0L473.2 27.8Z"/>
<path d="M476.7 27.7L488.3 26.5M488.2 25.3L494.2 25.9L488.4 27.8Z"/>
<path d="M86.7 42.7L99.0 42.6M99.0 41.3L105.2 42.6L99.0 44.0Z"/>
<path d="M101.7 42.7L113.6 42.6M113.6 41.3L119.6 42.5L113.6 43.9Z"/>
<path d="M116.7 42.7L128.2 42.6M128.2 41.3L134.0 42.5L128.2 43.8Z"/>
<path d="M131.7 42.7L142.8 42.5M142.8 41.3L148.4 42.4L142.8 43.8Z"/>
<path d="M146.7 42.7L157.4 42.5M157.4 41.3L162.8 42.4L157.4 43.7Z"/>
<path d="M161.7 42.7L172.0 42.4M172.0 41.3L177.3 42.3L172.1 43.6Z"/>
<path d="M176.7 42.7L186.7 42.4M186.6 41.3L191.7 42.2L186.7 43.5Z"/>
<path d="M191.7 42.7L200.9 42.3M200.8 41.3L205.6 42.1L200.9 43.4Z"/>
<path d="M206.7 42.7L214.8 42.4M214.7 41.4L218.9 42.2L214.8 43.3Z"/>
<path d="M221.7 42.7L228.9 42.4M228.8 41.6L232.6 42.2L228.9 43.2Z"/>
<path d="M236.7 42.7L244.7 42.4M244.6 41.5L248.8 42.2L244.7 43.3Z"/>
<path d="M251.7 42.7L260.6 42.4M260.6 41.4L265.2 42.3L260.6 43.4Z"/>
<path d="M266.7 42.7L276.2 42.5M276.1 41.5L281.0 42.4L276.2 43.6Z"/>
<path d="M281.7 42.7L291.3 42.7M291.3 41.6L296.1 42.6L291.3 43.7Z"/>
<path d="M296.7 42.7L306.3 42.8M306.3 41.7L311.1 42.8L306.2 43.8Z"/>
<path d="M311.7 42.7L321.3 42.9M321.3 41.8L326.1 42.9L321.2 43.9Z"/>
<path d="M326.7 42.7L336.1 42.9M336.1 41.9L340.9 43.0L336.0 44.0Z"/>
<path d="M341.7 42.7L350.4 42.9M350.4 42.0L354.9 43.1L350.4 43.9Z"/>
<path d="M356.7 42.7L364.3 42.9M364.3 42.1L368.3 43.0L364.3 43.8Z"/>
<path d="M371.7 42.7L378.7 42.9M378.7 42.1L382.3 43.0L378.6 43.7Z"/>
<path d="M386.7 42.7L394.5 42.9M394.5 42.0L398.5 43.0L394.5 43.8Z"/>
<path d="M401.7 42.7L410.6 42.9M410.6 41.9L415.2 43.0L410.6 43.9Z"/>
<path d="M416.7 42.7L426.6 42.6M426.6 41.5L431.7 42.5L426.6 43.7Z"/>
<path d="M431.7 42.7L442.1 42.3M442.0 41.1L447.3 42.0L442.1 43.4Z"/>
<path d="M446.7 42.7L457.7 41.9M457.6 40.7L463.3 41.5L457.8 43.1Z"/>
<path d="M461.7 42.7L473.3 41.6M473.2 40.3L479.1 41.0L473.4 42.8Z"/>
<path d="M476.7 42.7L488.6 41.5M488.5 40.2L494.6 40.9L488.7 42.8Z"/>
<path d="M86.7 57.7L98.7 57.6M98.7 56.3L104.7 57.6L98.7 58.9Z"/>
<path d="M101.7 57.7L113.3 57.6M113.3 56.3L119.2 57.5L113.4 58.9Z"/>
<path d="M116.7 57.7L128.0 57.5M128.0 56.3L133.7 57.5L128.0 58.8Z"/>
<path d="M131.7 57.7L142.7 57.5M142.6 56.3L148.2 57.4L142.7 58.7Z"/>
<path d="M146.7 57.7L157.3 57.4M157.3 56.3L162.7 57.3L157.3 58.6Z"/>
<path d="M161.7 57.7L171.9 57.4M171.9 56.2L177.2 57.2L172.0 58.5Z"/>
<path d="M176.7 57.7L186.6 57.3M186.5 56.2L191.6 57.0L186.6 58.4Z"/>
<path d="M191.7 57.7L200.7 57.2M200.7 56.2L205.4 57.0L200.8 58.3Z"/>
<path d="M206.7 57.7L214.6 57.3M214.6 56.4L218.7 57.0L214.7 58.2Z"/>
<path d="M221.7 57.7L228.9 57.3M228.8 56.5L232.6 57.1L228.9 58.1Z"/>
<path d="M236.7 57.7L244.6 57.3M244.5 56.4L248.7 57.1L244.6 58.2Z"/>
<path d="M251.7 57.7L260.4 57.3M260.4 56.3L264.9 57.1L260.4 58.3Z"/>
<path d="M266.7 57.7L275.9 57.4M275.8 56.4L280.6 57.3L275.9 58.5Z"/>
<path d="M281.7 57.7L290.9 57.6M290.9 56.6L295.7 57.6L290.9 58.7Z"/>
<path d="M296.7 57.7L305.9 57.8M305.9 56.8L310.7 57.8L305.9 58.8Z"/>
<path d="M311.7 57.7L320.9 57.9M321.0 56.9L325.7 58.0L320.9 59.0Z"/>
<path d="M326.7 57.7L335.7 58.0M335.8 57.0L340.4 58.2L335.7 59.0Z"/>
<path d="M341.7 57.7L350.1 58.0M350.2 57.1L354.5 58.2L350.1 59.0Z"/>
<path d="M356.7 57.7L364.1 58.0M364.1 57.1L367.9 58.1L364.0 58.8Z"/>
<path d="M371.7 57.7L378.5 58.0M378.6 57.2L382.2 58.1L378.5 58.7Z"/>
<path d="M386.7 57.7L394.3 57.9M394.3 57.1L398.3 58.1L394.3 58.8Z"/>
<path d="M401.7 57.7L410.4 57.9M410.4 56.9L414.9 58.0L410.4 58.9Z"/>
<path d="M416.7 57.7L426.5 57.6M426.5 56.5L431.6 57.6L426.5 58.7Z"/>
<path d="M431.7 57.7L442.0 57.3M442.0 56.1L447.2 57.1L442.0 58.4Z"/>
<path d="M446.7 57.7L457.6 56.9M457.5 55.7L463.1 56.5L457.7 58.1Z"/>
<path d="M461.7 57.7L473.1 56.6M473.0 55.3L478.8 56.0L473.2 57.8Z"/>
<path d="M476.7 57.7L488.4 56.5M488.3 55.2L494.4 55.9L488.6 57.8Z"/>
<path d="M86.7 72.7L98.4 72.6M98.4 71.3L104.2 72.6L98.4 73.9Z"/>
<path d="M101.7 72.7L113.1 72.6M113.1 71.3L118.9 72.5L113.1 73.8Z"/>
<path d="M116.7 72.7L127.8 72.5M127.8 71.3L133.5 72.5L127.9 73.8Z"/>
<path d="M131.7 72.7L142.5 72.5M142.5 71.3L148.0 72.4L142.6 73.7Z"/>
<path d="M146.7 72.7L157.2 72.4M157.2 71.2L162.5 72.2L157.2 73.6Z"/>
<path d="M161.7 72.7L171.9 72.3M171.8 71.1L177.0 72.1L171.9 73.4Z"/>
<path d="M176.7 72.7L186.5 72.2M186.5 71.1L191.5 71.9L186.6 73.3Z"/>
<path d="M191.7 72.7L200.6 72.1M200.5 71.1L205.2 71.9L200.6 73.1Z"/>
<path d="M206.7 72.7L214.5 72.1M214.4 71.3L218.5 71.8L214.5 73.0Z"/>
<path d="M221.7 72.7L228.8 72.1M228.8 71.3L232.6 71.8L228.9 73.0Z"/>
<path d="M236.7 72.7L244.5 72.1M244.4 71.2L248.5 71.8L244.5 73.0Z"/>
<path d="M251.7 72.7L260.2 72.1M260.1 71.2L264.6 71.8L260.3 73.1Z"/>
<path d="M266.7 72.7L275.6 72.3M275.5 71.3L280.2 72.1L275.6 73.3Z"/>
<path d="M281.7 72.7L290.6 72.6M290.6 71.6L295.2 72.5L290.6 73.6Z"/>
<path d="M296.7 72.7L305.6 72.9M305.6 71.9L310.2 72.9L305.6 73.9Z"/>
<path d="M311.7 72.7L320.6 73.1M320.6 72.1L325.2 73.2L320.6 74.1Z"/>
<path d="M326.7 72.7L335.4 73.2M335.5 72.2L339.9 73.4L335.3 74.1Z"/>
<path d="M341.7 72.7L349.8 73.2M349.9 72.2L354.1 73.4L349.8 74.1Z"/>
<path d="M356.7 72.7L363.9 73.1M363.9 72.3L367.6 73.3L363.8 73.9Z"/>
<path d="M371.7 72.7L378.4 73.0M378.5 72.2L382.0 73.2L378.4 73.8Z"/>
<path d="M386.7 72.7L394.1 73.0M394.1 72.1L397.9 73.1L394.0 73.8Z"/>
<path d="M401.7 72.7L410.2 72.9M410.3 72.0L414.6 73.1L410.2 73.9Z"/>
<path d="M416.7 72.7L426.3 72.7M426.3 71.6L431.3 72.6L426.4 73.7Z"/>
<path d="M431.7 72.7L441.9 72.3M441.9 71.2L447.1 72.1L442.0 73.4Z"/>
<path d="M446.7 72.7L457.4 71.9M457.3 70.8L462.8 71.6L457.5 73.1Z"/>
<path d="M461.7 72.7L472.9 71.6M472.8 70.4L478.5 71.1L473.0 72.9Z"/>
<path d="M476.7 72.7L488.3 71.6M488.1 70.3L494.1 71.0L488.4 72.8Z"/>
<path d="M86.7 87.7L98.2 87.6M98.2 86.3L104.1 87.6L98.3 88.9Z"/>
<path d="M101.7 87.7L113.0 87.6M113.0 86.3L118.7 87.5L113.0 88.8Z"/>
<path d="M116.7 87.7L127.7 87.5M127.7 86.3L133.3 87.4L127.7 88.8Z"/>
<path d="M131.7 87.7L142.4 87.5M142.4 86.3L147.8 87.3L142.4 88.6Z"/>
<path d="M146.7 87.7L157.0 87.4M157.0 86.2L162.3 87.2L157.1 88.5Z"/>
<path d="M161.7 87.7L171.7 87.2M171.6 86.1L176.8 87.0L171.7 88.3Z"/>
<path d="M176.7 87.7L186.1 87.1M186.0 86.1L190.8 86.8L186.1 88.2Z"/>
<path d="M191.7 87.7L200.0 87.0M199.9 86.1L204.3 86.7L200.1 88.0Z"/>
<path d="M206.7 87.7L213.8 87.0M213.8 86.2L217.6 86.6L213.9 87.8Z"/>
<path d="M221.7 87.7L228.2 86.9M228.1 86.2L231.6 86.5L228.3 87.7Z"/>
<path d="M236.7 87.7L243.5 86.8M243.4 86.0L247.1 86.4L243.6 87.6Z"/>
<path d="M251.7 87.7L258.9 86.8M258.8 86.0L262.7 86.4L259.0 87.7Z"/>
<path d="M266.7 87.7L274.2 87.1M274.1 86.2L278.1 86.8L274.2 87.9Z"/>
<path d="M281.7 87.7L289.2 87.5M289.2 86.7L293.1 87.4L289.2 88.4Z"/>
<path d="M296.7 87.7L304.2 88.0M304.2 87.1L308.1 88.1L304.2 88.8Z"/>
<path d="M311.7 87.7L319.2 88.3M319.2 87.4L323.1 88.5L319.1 89.1Z"/>
<path d="M326.7 87.7L333.8 88.4M333.9 87.5L337.6 88.7L333.8 89.2Z"/>
<path d="M341.7 87.7L348.3 88.3M348.4 87.5L351.8 88.6L348.2 89.1Z"/>
<path d="M356.7 87.7L362.7 88.2M362.7 87.5L365.9 88.4L362.6 88.9Z"/>
<path d="M371.7 87.7L377.8 88.1M377.8 87.4L381.1 88.3L377.8 88.8Z"/>
<path d="M386.7 87.7L393.5 88.0M393.6 87.2L397.2 88.2L393.5 88.8Z"/>
<path d="M401.7 87.7L409.7 88.0M409.7 87.0L413.8 88.1L409.6 88.9Z"/>
<path d="M416.7 87.7L425.7 87.7M425.7 86.7L430.3 87.7L425.7 88.7Z"/>
<path d="M431.7 87.7L441.7 87.3M441.7 86.2L446.8 87.1L441.7 88.4Z"/>
<path d="M446.7 87.7L457.2 87.0M457.1 85.8L462.5 86.6L457.2 88.1Z"/>
<path d="M461.7 87.7L472.6 86.6M472.5 85.4L478.1 86.1L472.7 87.8Z"/>
<path d="M476.7 87.7L487.9 86.6M487.8 85.3L493.6 86.0L488.1 87.8Z"/>
<path d="M86.7 102.7L98.1 102.6M98.1 101.4L103.9 102.6L98.1 103.9Z"/>
<path d="M101.7 102.7L112.9 102.6M112.9 101.4L118.5 102.5L112.9 103.8Z"/>
<path d="M116.7 102.7L127.6 102.5M127.6 101.3L133.1 102.5L127.6 103.7Z"/>
<path d="M131.7 102.7L142.2 102.5M142.2 101.3L147.6 102.3L142.3 103.6Z"/>
<path d="M146.7 102.7L156.9 102.3M156.8 101.2L162.0 102.2L156.9 103.5Z"/>
<path d="M161.7 102.7L171.5 102.2M171.5 101.1L176.5 102.0L171.6 103.3Z"/>
<path d="M176.7 102.7L185.6 102.1M185.5 101.1L190.2 101.8L185.6 103.1Z"/>
<path d="M191.7 102.7L199.4 101.9M199.4 101.0L203.5 101.5L199.5 102.8Z"/>
<path d="M206.7 102.7L213.2 101.8M213.1 101.0L216.6 101.3L213.3 102.5Z"/>
<path d="M221.7 102.7L227.5 101.6M227.4 100.9L230.6 101.0L227.6 102.3Z"/>
<path d="M341.7 102.7L346.7 103.5M346.8 102.9L349.4 104.0L346.6 104.1Z"/>
<path d="M356.7 102.7L361.5 103.3M361.6 102.7L364.2 103.6L361.4 103.9Z"/>
<path d="M371.7 102.7L377.2 103.2M377.2 102.5L380.1 103.4L377.1 103.8Z"/>
<path d="M386.7 102.7L393.0 103.0M393.1 102.3L396.4 103.2L393.0 103.8Z"/>
<path d="M401.7 102.7L409.1 102.9M409.1 102.1L412.9 103.1L409.0 103.8Z"/>
<path d="M416.7 102.7L425.0 102.7M425.0 101.7L429.4 102.7L425.0 103.6Z"/>
<path d="M431.7 102.7L441.3 102.3M441.3 101.3L446.3 102.2L441.4 103.4Z"/>
<path d="M446.7 102.7L456.9 102.0M456.8 100.8L462.1 101.6L457.0 103.1Z"/>
<path d="M461.7 102.7L472.3 101.7M472.2 100.5L477.7 101.1L472.4 102.8Z"/>
<path d="M476.7 102.7L487.6 101.6M487.5 100.4L493.2 101.0L487.7 102.8Z"/>
<path d="M86.7 117.7L98.0 117.6M98.0 116.4L103.7 117.6L98.0 118.9Z"/>
<path d="M101.7 117.7L112.7 117.6M112.6 116.4L118.2 117.6L112.7 118.8Z"/>
<path d="M116.7 117.7L127.3 117.6M127.3 116.4L132.7 117.5L127.3 118.7Z"/>
<path d="M131.7 117.7L141.9 117.5M141.9 116.4L147.1 117.4L141.9 118.6Z"/>
<path d="M146.7 117.7L156.3 117.4M156.3 116.3L161.3 117.2L156.4 118.5Z"/>
<path d="M161.7 117.7L170.4 117.3M170.4 116.3L174.9 117.1L170.5 118.3Z"/>
<path d="M176.7 117.7L184.3 117.1M184.2 116.3L188.2 116.8L184.3 118.0Z"/>
<path d="M191.7 117.7L197.9 116.9M197.8 116.2L201.2 116.5L198.0 117.7Z"/>
<path d="M206.7 117.7L211.8 116.6M211.6 116.0L214.5 116.1L211.9 117.2Z"/>
<path d="M371.7 117.7L376.1 118.2M376.2 117.6L378.6 118.4L376.0 118.7Z"/>
<path d="M386.7 117.7L391.6 118.0M391.7 117.4L394.4 118.1L391.6 118.6Z"/>
<path d="M401.7 117.7L407.7 117.9M407.7 117.2L410.9 118.0L407.7 118.6Z"/>
<path d="M416.7 117.7L424.0 117.6M424.0 116.8L427.8 117.6L424.0 118.5Z"/>
<path d="M431.7 117.7L440.3 117.3M440.3 116.4L444.8 117.2L440.4 118.3Z"/>
<path d="M446.7 117.7L456.4 117.0M456.3 115.9L461.4 116.6L456.5 118.1Z"/>
<path d="M461.7 117.7L471.9 116.7M471.8 115.6L477.1 116.2L472.0 117.8Z"/>
<path d="M476.7 117.7L487.3 116.6M487.1 115.5L492.6 116.1L487.4 117.8Z"/>
<path d="M86.7 132.7L97.8 132.7M97.8 131.4L103.5 132.6L97.8 133.9Z"/>
<path d="M101.7 132.7L112.4 132.6M112.4 131.4L117.9 132.6L112.4 133.8Z"/>
<path d="M116.7 132.7L127.0 132.6M127.0 131.5L132.3 132.6L127.0 133.8Z"/>
<path d="M131.7 132.7L141.5 132.5M141.5 131.4L146.6 132.5L141.6 133.6Z"/>
<path d="M146.7 132.7L155.4 132.5M155.4 131.5L159.9 132.4L155.4 133.5Z"/>
<path d="M161.7 132.7L169.3 132.4M169.3 131.5L173.3 132.2L169.3 133.3Z"/>
<path d="M176.7 132.7L182.8 132.3M182.8 131.6L186.1 132.1L182.9 133.0Z"/>
<path d="M191.7 132.7L196.3 132.1M196.2 131.5L198.9 131.7L196.4 132.6Z"/>
<path d="M386.7 132.7L390.3 132.9M390.3 132.4L392.4 133.0L390.3 133.3Z"/>
<path d="M401.7 132.7L406.3 132.8M406.4 132.2L408.9 132.8L406.3 133.4Z"/>
<path d="M416.7 132.7L422.8 132.6M422.8 131.9L426.1 132.6L422.8 133.3Z"/>
<path d="M431.7 132.7L439.3 132.3M439.2 131.5L443.2 132.2L439.3 133.2Z"/>
<path d="M446.7 132.7L455.4 132.0M455.3 131.1L459.9 131.7L455.5 133.0Z"/>
<path d="M461.7 132.7L471.5 131.7M471.4 130.6L476.5 131.2L471.6 132.8Z"/>
<path d="M476.7 132.7L486.9 131.7M486.8 130.5L492.1 131.1L487.0 132.8Z"/>
<path d="M86.7 147.7L97.3 147.7M97.3 146.5L102.7 147.7L97.3 148.9Z"/>
<path d="M101.7 147.7L111.9 147.7M111.9 146.5L117.1 147.7L111.9 148.8Z"/>
<path d="M116.7 147.7L126.4 147.7M126.4 146.6L131.4 147.6L126.4 148.7Z"/>
<path d="M131.7 147.7L140.4 147.6M140.4 146.6L144.9 147.6L140.4 148.6Z"/>
<path d="M146.7 147.7L154.4 147.6M154.4 146.7L158.4 147.6L154.4 148.5Z"/>
<path d="M161.7 147.7L168.1 147.6M168.1 146.8L171.6 147.5L168.1 148.3Z"/>
<path d="M176.7 147.7L181.8 147.5M181.7 146.9L184.5 147.4L181.8 148.1Z"/>
<path d="M386.7 147.7L390.1 147.7M390.1 147.3L392.1 147.7L390.1 148.2Z"/>
<path d="M401.7 147.7L405.7 147.7M405.7 147.2L408.0 147.7L405.7 148.2Z"/>
<path d="M416.7 147.7L422.0 147.6M422.0 146.9L424.8 147.5L422.0 148.2Z"/>
<path d="M431.7 147.7L438.5 147.3M438.5 146.5L442.2 147.1L438.6 148.1Z"/>
<path d="M446.7 147.7L454.7 147.0M454.7 146.1L458.9 146.7L454.8 148.0Z"/>
<path d="M461.7 147.7L470.8 146.7M470.7 145.7L475.5 146.3L470.9 147.8Z"/>
<path d="M476.7 147.7L486.6 146.7M486.5 145.6L491.7 146.1L486.7 147.8Z"/>
<path d="M86.7 162.7L96.8 162.7M96.8 161.6L101.9 162.7L96.8 163.9Z"/>
<path d="M101.7 162.7L111.2 162.7M111.2 161.7L116.0 162.8L111.2 163.8Z"/>
<path d="M116.7 162.7L125.2 162.8M125.2 161.8L129.6 162.8L125.2 163.7Z"/>
<path d="M131.7 162.7L139.3 162.8M139.3 161.9L143.3 162.8L139.3 163.7Z"/>
<path d="M146.7 162.7L153.2 162.8M153.3 162.1L156.7 162.9L153.2 163.6Z"/>
<path d="M161.7 162.7L167.0 162.9M167.0 162.2L169.8 162.9L167.0 163.5Z"/>
<path d="M176.7 162.7L180.7 162.9M180.7 162.4L183.0 163.0L180.7 163.4Z"/>
<path d="M401.7 162.7L405.1 162.3M405.0 161.9L407.0 162.1L405.1 162.7Z"/>
<path d="M416.7 162.7L421.1 162.3M421.1 161.7L423.6 162.0L421.2 162.8Z"/>
<path d="M431.7 162.7L437.8 162.1M437.7 161.4L441.0 161.7L437.9 162.8Z"/>
<path d="M446.7 162.7L454.0 161.9M453.9 161.0L457.9 161.5L454.1 162.7Z"/>
<path d="M461.7 162.7L470.2 161.7M470.0 160.7L474.5 161.1L470.3 162.6Z"/>
<path d="M476.7 162.7L486.1 161.6M486.0 160.5L490.9 161.0L486.2 162.7Z"/>
<path d="M86.7 177.7L96.4 177.9M96.5 176.8L101.4 178.0L96.4 179.0Z"/>
<path d="M101.7 177.7L110.6 178.0M110.6 177.0L115.2 178.1L110.6 179.0Z"/>
<path d="M116.7 177.7L124.8 178.1M124.8 177.2L128.9 178.3L124.7 179.0Z"/>
<path d="M131.7 177.7L138.8 178.3M138.9 177.4L142.6 178.6L138.8 179.1Z"/>
<path d="M146.7 177.7L152.9 178.4M153.0 177.7L156.2 178.8L152.8 179.2Z"/>
<path d="M161.7 177.7L166.8 178.6M166.9 178.0L169.6 179.1L166.7 179.2Z"/>
<path d="M401.7 177.7L405.0 177.0M404.9 176.6L406.9 176.6L405.1 177.4Z"/>
<path d="M416.7 177.7L421.1 177.0M421.0 176.4L423.5 176.6L421.2 177.5Z"/>
<path d="M431.7 177.7L437.5 176.8M437.4 176.1L440.7 176.3L437.6 177.5Z"/>
<path d="M446.7 177.7L453.9 176.7M453.8 175.9L457.7 176.2L454.0 177.5Z"/>
<path d="M461.7 177.7L470.0 176.5M469.8 175.6L474.2 175.9L470.1 177.5Z"/>
<path d="M476.7 177.7L485.8 176.5M485.7 175.5L490.5 175.9L485.9 177.5Z"/>
<path d="M86.7 192.7L96.8 193.1M96.8 191.9L101.9 193.2L96.7 194.2Z"/>
<path d="M101.7 192.7L110.9 193.2M111.0 192.1L115.7 193.4L110.9 194.2Z"/>
<path d="M116.7 192.7L125.1 193.4M125.2 192.4L129.5 193.7L125.0 194.3Z"/>
<path d="M131.7 192.7L139.1 193.7M139.3 192.8L143.0 194.2L139.0 194.5Z"/>
<path d="M146.7 192.7L153.2 194.0M153.3 193.3L156.6 194.7L153.0 194.7Z"/>
<path d="M161.7 192.7L167.1 194.3M167.3 193.7L170.1 195.2L166.9 194.9Z"/>
<path d="M401.7 192.7L405.0 191.9M404.9 191.4L406.9 191.4L405.1 192.3Z"/>
<path d="M416.7 192.7L421.0 191.8M420.9 191.3L423.5 191.3L421.1 192.3Z"/>
<path d="M431.7 192.7L437.3 191.7M437.2 191.0L440.3 191.1L437.4 192.3Z"/>
<path d="M446.7 192.7L453.8 191.6M453.6 190.8L457.5 191.0L453.9 192.4Z"/>
<path d="M461.7 192.7L469.8 191.4M469.6 190.5L473.9 190.8L469.9 192.4Z"/>
<path d="M476.7 192.7L485.5 191.5M485.4 190.5L490.1 190.8L485.7 192.5Z"/>
<path d="M86.7 207.7L96.3 208.1M96.3 207.1L101.1 208.4L96.2 209.2Z"/>
<path d="M101.7 207.7L110.5 208.3M110.6 207.3L115.0 208.6L110.4 209.3Z"/>
<path d="M116.7 207.7L124.7 208.5M124.8 207.6L128.8 208.9L124.6 209.4Z"/>
<path d="M131.7 207.7L138.8 208.8M138.9 208.0L142.5 209.4L138.7 209.6Z"/>
<path d="M146.7 207.7L152.9 209.3M153.0 208.5L156.1 210.1L152.7 210.0Z"/>
<path d="M161.7 207.7L166.8 209.5M167.0 208.9L169.6 210.5L166.6 210.1Z"/>
<path d="M401.7 207.7L404.9 206.9M404.8 206.5L406.7 206.4L405.0 207.3Z"/>
<path d="M416.7 207.7L420.9 206.8M420.8 206.2L423.3 206.2L421.0 207.3Z"/>
<path d="M431.7 207.7L437.0 206.7M436.9 206.1L439.9 206.1L437.1 207.3Z"/>
<path d="M446.7 207.7L453.2 206.6M453.1 205.8L456.7 206.0L453.4 207.3Z"/>
<path d="M461.7 207.7L469.6 206.4M469.4 205.5L473.7 205.7L469.7 207.3Z"/>
<path d="M476.7 207.7L485.0 206.5M484.9 205.5L489.4 205.9L485.2 207.4Z"/>
<path d="M86.7 222.7L95.7 223.2M95.8 222.2L100.4 223.4L95.7 224.2Z"/>
<path d="M101.7 222.7L110.0 223.3M110.1 222.4L114.3 223.7L109.9 224.3Z"/>
<path d="M116.7 222.7L124.3 223.5M124.3 222.7L128.2 224.0L124.2 224.4Z"/>
<path d="M131.7 222.7L138.5 223.8M138.6 223.1L142.0 224.4L138.3 224.6Z"/>
<path d="M146.7 222.7L152.6 224.2M152.8 223.6L155.8 225.1L152.4 224.9Z"/>
<path d="M161.7 222.7L166.6 224.5M166.8 223.9L169.2 225.4L166.4 225.1Z"/>
<path d="M401.7 222.7L404.8 221.9M404.7 221.5L406.6 221.5L404.9 222.3Z"/>
<path d="M416.7 222.7L420.8 221.8M420.7 221.3L423.1 221.3L420.9 222.3Z"/>
<path d="M431.7 222.7L436.7 221.8M436.6 221.2L439.4 221.3L436.8 222.4Z"/>
<path d="M446.7 222.7L452.7 221.7M452.6 221.0L456.0 221.1L452.8 222.4Z"/>
<path d="M461.7 222.7L469.4 221.4M469.2 220.5L473.4 220.8L469.5 222.3Z"/>
<path d="M476.7 222.7L484.6 221.5M484.4 220.6L488.7 220.9L484.7 222.4Z"/>
<path d="M86.7 237.7L95.1 238.2M95.2 237.2L99.5 238.4L95.1 239.1Z"/>
<path d="M101.7 237.7L109.4 238.3M109.5 237.4L113.4 238.6L109.3 239.2Z"/>
<path d="M116.7 237.7L123.7 238.5M123.8 237.7L127.5 238.9L123.7 239.3Z"/>
<path d="M131.7 237.7L138.0 238.7M138.1 238.0L141.4 239.3L137.9 239.5Z"/>
<path d="M146.7 237.7L152.2 239.0M152.4 238.4L155.2 239.7L152.1 239.7Z"/>
<path d="M161.7 237.7L166.3 239.3M166.5 238.7L168.9 240.2L166.1 239.9Z"/>
<path d="M176.7 237.7L180.4 239.3M180.6 238.8L182.5 240.2L180.2 239.8Z"/>
<path d="M401.7 237.7L404.2 237.2M404.1 236.8L405.7 236.8L404.2 237.5Z"/>
<path d="M416.7 237.7L420.2 237.1M420.2 236.7L422.3 236.8L420.3 237.6Z"/>
<path d="M431.7 237.7L436.2 237.2M436.1 236.6L438.7 236.9L436.3 237.7Z"/>
<path d="M446.7 237.7L452.3 237.2M452.2 236.6L455.3 237.0L452.3 237.9Z"/>
<path d="M461.7 237.7L468.6 237.3M468.6 236.5L472.3 237.1L468.7 238.1Z"/>
<path d="M476.7 237.7L484.1 237.4M484.0 236.5L487.9 237.2L484.1 238.2Z"/>
<path d="M86.7 252.7L94.4 253.1M94.5 252.3L98.5 253.4L94.4 254.0Z"/>
<path d="M101.7 252.7L108.8 253.3M108.9 252.4L112.6 253.5L108.8 254.1Z"/>
<path d="M116.7 252.7L123.2 253.4M123.3 252.6L126.7 253.8L123.2 254.2Z"/>
<path d="M131.7 252.7L137.6 253.6M137.7 252.9L140.7 254.0L137.5 254.3Z"/>
<path d="M146.7 252.7L151.9 253.8M152.0 253.2L154.7 254.3L151.7 254.4Z"/>
<path d="M161.7 252.7L166.1 254.0M166.3 253.4L168.6 254.7L165.9 254.5Z"/>
<path d="M176.7 252.7L180.3 254.0M180.4 253.6L182.3 254.8L180.1 254.5Z"/>
<path d="M401.7 252.7L403.6 252.3M403.5 252.0L404.9 252.0L403.7 252.6Z"/>
<path d="M416.7 252.7L419.8 252.3M419.7 251.9L421.6 252.1L419.8 252.7Z"/>
<path d="M431.7 252.7L435.7 252.3M435.6 251.8L438.0 252.1L435.7 252.8Z"/>
<path d="M446.7 252.7L451.7 252.3M451.7 251.7L454.5 252.1L451.8 252.9Z"/>
<path d="M461.7 252.7L467.8 252.4M467.8 251.7L471.1 252.2L467.8 253.1Z"/>
<path d="M476.7 252.7L483.4 252.4M483.4 251.6L487.0 252.3L483.5 253.2Z"/>
<path d="M86.7 267.7L93.3 268.1M93.3 267.3L96.8 268.2L93.2 268.8Z"/>
<path d="M101.7 267.7L107.6 268.1M107.6 267.4L110.7 268.4L107.5 268.8Z"/>
<path d="M116.7 267.7L121.6 268.2M121.7 267.6L124.3 268.4L121.6 268.8Z"/>
<path d="M131.7 267.7L135.7 268.2M135.8 267.7L138.0 268.5L135.6 268.7Z"/>
<path d="M146.7 267.7L149.8 268.2M149.8 267.8L151.6 268.5L149.7 268.6Z"/>
<path d="M161.7 267.7L164.3 268.3M164.4 267.9L165.9 268.7L164.2 268.6Z"/>
<path d="M176.7 267.7L179.0 268.4M179.1 268.1L180.5 268.8L178.9 268.7Z"/>
<path d="M191.7 267.7L193.8 268.4M193.9 268.1L195.2 268.9L193.7 268.7Z"/>
<circle cx="386.4" cy="267.4" r="1.58" stroke="none"/>
<circle cx="401.7" cy="267.6" r="1.58" stroke="none"/>
<path d="M416.7 267.7L417.5 267.5M417.4 267.4L418.2 267.4L417.5 267.7Z"/>
<path d="M431.7 267.7L433.8 267.5M433.8 267.2L435.2 267.4L433.8 267.8Z"/>
<path d="M446.7 267.7L450.1 267.5M450.0 267.1L452.0 267.4L450.1 267.9Z"/>
<path d="M461.7 267.7L466.1 267.5M466.0 267.0L468.5 267.4L466.1 268.0Z"/>
<path d="M476.7 267.7L481.6 267.5M481.6 266.9L484.3 267.4L481.6 268.1Z"/>
<path d="M86.7 282.7L91.9 281.3M91.8 280.7L94.8 280.5L92.1 281.9Z"/>
<path d="M101.7 282.7L106.6 281.4M106.4 280.8L109.3 280.7L106.8 282.0Z"/>
<path d="M116.7 282.7L121.3 281.5M121.1 280.9L123.8 280.8L121.4 282.0Z"/>
<path d="M131.7 282.7L132.3 282.5M132.3 282.4L133.0 282.4L132.4 282.7Z"/>
<path d="M146.7 282.7L147.3 282.8M147.3 282.6L148.0 282.9L147.3 282.9Z"/>
<path d="M161.7 282.7L162.2 282.8M162.3 282.7L162.9 282.9L162.2 282.9Z"/>
<path d="M176.7 282.7L177.2 282.8M177.2 282.7L177.8 282.9L177.2 282.9Z"/>
<path d="M191.7 282.7L192.2 282.8M192.2 282.7L192.7 283.0L192.1 282.9Z"/>
<path d="M206.7 282.7L207.1 282.8M207.1 282.7L207.7 283.0L207.1 282.9Z"/>
<path d="M371.7 282.7L369.7 282.7M369.7 283.0L368.3 282.7L369.7 282.4Z"/>
<path d="M386.7 282.7L385.2 282.8M385.3 283.1L384.1 282.9L385.2 282.6Z"/>
<path d="M401.7 282.7L401.5 282.7M401.5 282.8L401.0 282.7L401.5 282.6Z"/>
<path d="M416.7 282.7L416.8 282.7M416.8 282.7L417.1 283.0L416.7 282.8Z"/>
<path d="M431.7 282.7L431.9 282.7M431.9 282.6L432.4 282.7L431.9 282.8Z"/>
<path d="M446.7 282.7L446.9 282.7M446.8 282.6L447.3 282.7L446.9 282.8Z"/>
<path d="M461.7 282.7L461.8 282.7M461.8 282.6L462.2 282.7L461.8 282.8Z"/>
<circle cx="477.1" cy="282.7" r="1.58" stroke="none"/>
<path d="M86.7 297.7L91.0 296.5M90.9 296.0L93.5 295.9L91.2 297.1Z"/>
<path d="M101.7 297.7L105.8 296.6M105.7 296.1L108.1 296.0L105.9 297.1Z"/>
<path d="M116.7 297.7L120.5 296.7M120.4 296.2L122.7 296.1L120.7 297.2Z"/>
<path d="M131.7 297.7L132.4 297.5M132.4 297.3L133.2 297.3L132.5 297.7Z"/>
<path d="M146.7 297.7L147.4 297.8M147.4 297.6L148.1 297.9L147.4 297.9Z"/>
<circle cx="162.2" cy="297.8" r="1.58" stroke="none"/>
<circle cx="177.2" cy="297.8" r="1.58" stroke="none"/>
<path d="M191.7 297.7L192.4 297.8M192.4 297.7L193.1 298.0L192.3 298.0Z"/>
<path d="M206.7 297.7L207.4 297.8M207.5 297.7L208.2 298.0L207.4 298.0Z"/>
<path d="M221.7 297.7L222.5 297.9M222.5 297.7L223.3 298.0L222.5 298.0Z"/>
<path d="M356.7 297.7L354.4 297.8M354.4 298.1L352.9 297.9L354.4 297.5Z"/>
<path d="M371.7 297.7L369.4 297.8M369.4 298.1L367.9 297.9L369.4 297.5Z"/>
<path d="M386.7 297.7L384.4 297.8M384.4 298.1L382.9 297.9L384.4 297.5Z"/>
<path d="M401.7 297.7L400.9 297.8M400.9 297.9L400.1 297.8L400.9 297.6Z"/>
<circle cx="416.9" cy="297.7" r="1.58" stroke="none"/>
<circle cx="432.3" cy="297.7" r="1.58" stroke="none"/>
<circle cx="447.3" cy="297.7" r="1.58" stroke="none"/>
<circle cx="462.3" cy="297.7" r="1.58" stroke="none"/>
<path d="M476.7 297.7L476.8 297.7M476.8 297.6L477.2 297.7L476.8 297.8Z"/>
</g>
<path d="M91.9 9.2V300.3M481.6 9.2V300.3M91.9 9.2H481.6" stroke="#4d4d4d" stroke-width="0.7" stroke-opacity="0.65" fill="none"/>
<rect x="367.6" y="244" width="56.6" height="42.8" fill="none" stroke="#000" stroke-width="2.4"/>
<g stroke="#1a1a1a" stroke-width="1" fill="none">
<path d="M727.5 11.5v8"/>
<path d="M727.5 297.5v-8"/>
<path d="M842.5 11.5v8"/>
<path d="M842.5 297.5v-8"/>
<path d="M956.5 11.5v8"/>
<path d="M956.5 297.5v-8"/>
<path d="M613.5 68.5h8"/>
<path d="M613.5 125.5h8"/>
<path d="M613.5 182.5h8"/>
<path d="M613.5 239.5h8"/>
</g>
<g shape-rendering="crispEdges">
<rect x="783.9" y="11.5" width="35.5" height="32.8" fill="#0363e1"/>
<rect x="819.1" y="11.5" width="35.5" height="32.8" fill="#0363e1"/>
<rect x="854.3" y="11.5" width="35.5" height="32.8" fill="#0268e1"/>
<rect x="889.5" y="11.5" width="35.5" height="32.8" fill="#0268e1"/>
<rect x="924.7" y="11.5" width="35.5" height="32.8" fill="#046de0"/>
<rect x="959.9" y="11.5" width="35.5" height="32.8" fill="#0871de"/>
<rect x="995.1" y="11.5" width="18.7" height="32.8" fill="#0d75dc"/>
<rect x="783.9" y="44.0" width="35.5" height="35.6" fill="#2053d4"/>
<rect x="819.1" y="44.0" width="35.5" height="35.6" fill="#2053d4"/>
<rect x="854.3" y="44.0" width="35.5" height="35.6" fill="#2053d4"/>
<rect x="889.5" y="44.0" width="35.5" height="35.6" fill="#0f5cdd"/>
<rect x="924.7" y="44.0" width="35.5" height="35.6" fill="#0363e1"/>
<rect x="959.9" y="44.0" width="35.5" height="35.6" fill="#0268e1"/>
<rect x="995.1" y="44.0" width="18.7" height="35.6" fill="#046de0"/>
<rect x="748.7" y="79.3" width="35.5" height="35.7" fill="#3243ba"/>
<rect x="783.9" y="79.3" width="35.5" height="35.7" fill="#3243ba"/>
<rect x="819.1" y="79.3" width="35.5" height="35.7" fill="#3243ba"/>
<rect x="854.3" y="79.3" width="35.5" height="35.7" fill="#3243ba"/>
<rect x="889.5" y="79.3" width="35.5" height="35.7" fill="#2c4ac7"/>
<rect x="924.7" y="79.3" width="35.5" height="35.7" fill="#2053d4"/>
<rect x="959.9" y="79.3" width="35.5" height="35.7" fill="#0363e1"/>
<rect x="995.1" y="79.3" width="18.7" height="35.7" fill="#0363e1"/>
<rect x="748.7" y="114.7" width="35.5" height="35.7" fill="#3637a0"/>
<rect x="783.9" y="114.7" width="35.5" height="35.7" fill="#3637a0"/>
<rect x="819.1" y="114.7" width="35.5" height="35.7" fill="#3637a0"/>
<rect x="854.3" y="114.7" width="35.5" height="35.7" fill="#353dad"/>
<rect x="889.5" y="114.7" width="35.5" height="35.7" fill="#3243ba"/>
<rect x="924.7" y="114.7" width="35.5" height="35.7" fill="#2c4ac7"/>
<rect x="959.9" y="114.7" width="35.5" height="35.7" fill="#2053d4"/>
<rect x="995.1" y="114.7" width="18.7" height="35.7" fill="#0363e1"/>
<rect x="713.5" y="150.1" width="35.5" height="35.6" fill="#363093"/>
<rect x="748.7" y="150.1" width="35.5" height="35.6" fill="#363093"/>
<rect x="783.9" y="150.1" width="35.5" height="35.6" fill="#352a87"/>
<rect x="819.1" y="150.1" width="35.5" height="35.6" fill="#352a87"/>
<rect x="854.3" y="150.1" width="35.5" height="35.6" fill="#352a87"/>
<rect x="889.5" y="150.1" width="35.5" height="35.6" fill="#363093"/>
<rect x="924.7" y="150.1" width="35.5" height="35.6" fill="#353dad"/>
<rect x="959.9" y="150.1" width="35.5" height="35.6" fill="#3243ba"/>
<rect x="995.1" y="150.1" width="18.7" height="35.6" fill="#2c4ac7"/>
<rect x="678.3" y="185.4" width="35.5" height="35.6" fill="#353dad"/>
<rect x="713.5" y="185.4" width="35.5" height="35.6" fill="#3637a0"/>
<rect x="748.7" y="185.4" width="35.5" height="35.6" fill="#363093"/>
<rect x="783.9" y="185.4" width="35.5" height="35.6" fill="#3637a0"/>
<rect x="819.1" y="185.4" width="35.5" height="35.6" fill="#3637a0"/>
<rect x="854.3" y="185.4" width="35.5" height="35.6" fill="#363093"/>
<rect x="889.5" y="185.4" width="35.5" height="35.6" fill="#363093"/>
<rect x="924.7" y="185.4" width="35.5" height="35.6" fill="#352a87"/>
<rect x="959.9" y="185.4" width="35.5" height="35.6" fill="#352a87"/>
<rect x="995.1" y="185.4" width="18.7" height="35.6" fill="#353dad"/>
<rect x="643.1" y="220.8" width="35.5" height="35.7" fill="#2053d4"/>
<rect x="678.3" y="220.8" width="35.5" height="35.7" fill="#2c4ac7"/>
<rect x="713.5" y="220.8" width="35.5" height="35.7" fill="#353dad"/>
<rect x="748.7" y="220.8" width="35.5" height="35.7" fill="#3637a0"/>
<rect x="783.9" y="220.8" width="35.5" height="35.7" fill="#3637a0"/>
<rect x="819.1" y="220.8" width="35.5" height="35.7" fill="#3637a0"/>
<rect x="854.3" y="220.8" width="35.5" height="35.7" fill="#3637a0"/>
<rect x="889.5" y="220.8" width="35.5" height="35.7" fill="#352a87"/>
<rect x="924.7" y="220.8" width="35.5" height="35.7" fill="#363093"/>
<rect x="959.9" y="220.8" width="35.5" height="35.7" fill="#3637a0"/>
<rect x="995.1" y="220.8" width="18.7" height="35.7" fill="#363093"/>
<rect x="613.5" y="256.1" width="29.9" height="35.7" fill="#0f5cdd"/>
<rect x="643.1" y="256.1" width="35.5" height="35.7" fill="#0f5cdd"/>
<rect x="678.3" y="256.1" width="35.5" height="35.7" fill="#0f5cdd"/>
<rect x="713.5" y="256.1" width="35.5" height="35.7" fill="#0f5cdd"/>
<rect x="748.7" y="256.1" width="35.5" height="35.7" fill="#2c4ac7"/>
<rect x="783.9" y="256.1" width="35.5" height="35.7" fill="#2c4ac7"/>
<rect x="819.1" y="256.1" width="35.5" height="35.7" fill="#3243ba"/>
<rect x="854.3" y="256.1" width="35.5" height="35.7" fill="#3637a0"/>
<rect x="889.5" y="256.1" width="35.5" height="35.7" fill="#352a87"/>
<rect x="924.7" y="256.1" width="35.5" height="35.7" fill="#3637a0"/>
<rect x="959.9" y="256.1" width="35.5" height="35.7" fill="#3637a0"/>
<rect x="995.1" y="256.1" width="18.7" height="35.7" fill="#363093"/>
<rect x="613.5" y="291.5" width="29.9" height="6.3" fill="#0363e1"/>
<rect x="643.1" y="291.5" width="35.5" height="6.3" fill="#0363e1"/>
<rect x="678.3" y="291.5" width="35.5" height="6.3" fill="#0363e1"/>
<rect x="713.5" y="291.5" width="35.5" height="6.3" fill="#0363e1"/>
<rect x="748.7" y="291.5" width="35.5" height="6.3" fill="#0f5cdd"/>
<rect x="783.9" y="291.5" width="35.5" height="6.3" fill="#0f5cdd"/>
<rect x="819.1" y="291.5" width="35.5" height="6.3" fill="#0f5cdd"/>
<rect x="854.3" y="291.5" width="35.5" height="6.3" fill="#0f5cdd"/>
<rect x="889.5" y="291.5" width="35.5" height="6.3" fill="#3243ba"/>
<rect x="924.7" y="291.5" width="35.5" height="6.3" fill="#3637a0"/>
<rect x="959.9" y="291.5" width="35.5" height="6.3" fill="#363093"/>
<rect x="995.1" y="291.5" width="18.7" height="6.3" fill="#363093"/>
</g>
<clipPath id="cb"><rect x="613.5" y="11.5" width="400.0" height="286.0"/></clipPath>
<g clip-path="url(#cb)" fill="#fff" stroke="#fff" stroke-width="2.9" stroke-linejoin="round">
<path d="M783.9 44.0L806.6 37.7M805.8 34.9L816.7 34.9L807.4 40.5Z"/>
<path d="M819.1 44.0L842.7 39.0M842.1 36.1L853.2 36.8L843.3 41.9Z"/>
<path d="M854.3 44.0L880.3 39.6M879.8 36.4L891.9 37.6L880.9 42.7Z"/>
<path d="M889.5 44.0L915.5 39.1M914.9 36.0L927.1 37.0L916.1 42.3Z"/>
<path d="M924.7 44.0L953.0 39.6M952.4 36.2L965.5 37.7L953.5 43.1Z"/>
<path d="M959.9 44.0L992.3 41.7M992.0 37.8L1006.6 40.7L992.6 45.6Z"/>
<path d="M995.1 44.0L1028.4 42.0M1028.1 37.9L1043.1 41.1L1028.6 46.0Z"/>
<path d="M783.9 79.3L800.0 73.5M799.3 71.5L807.3 70.8L800.8 75.5Z"/>
<path d="M819.1 79.3L836.1 74.5M835.5 72.3L843.8 72.2L836.7 76.6Z"/>
<path d="M854.3 79.3L873.1 75.5M872.6 73.2L881.6 73.8L873.6 77.8Z"/>
<path d="M889.5 79.3L909.8 75.6M909.3 73.1L918.9 73.9L910.2 78.1Z"/>
<path d="M924.7 79.3L948.0 75.6M947.5 72.7L958.4 73.9L948.4 78.5Z"/>
<path d="M959.9 79.3L987.2 76.0M986.8 72.7L999.3 74.6L987.6 79.4Z"/>
<path d="M995.1 79.3L1023.5 75.4M1023.0 72.0L1036.1 73.7L1024.0 78.9Z"/>
<path d="M748.7 114.7L759.2 109.2M758.5 107.9L764.1 106.7L759.9 110.6Z"/>
<path d="M783.9 114.7L795.1 109.8M794.5 108.4L800.4 107.5L795.8 111.2Z"/>
<path d="M819.1 114.7L830.4 109.5M829.7 108.1L835.6 107.1L831.0 111.0Z"/>
<path d="M854.3 114.7L866.1 110.1M865.5 108.6L871.6 108.0L866.7 111.6Z"/>
<path d="M889.5 114.7L904.3 110.7M903.8 108.8L911.1 108.9L904.8 112.6Z"/>
<path d="M924.7 114.7L943.4 110.7M942.9 108.4L951.8 108.9L943.9 113.0Z"/>
<path d="M959.9 114.7L983.2 111.3M982.8 108.4L993.6 109.7L983.6 114.1Z"/>
<path d="M995.1 114.7L1020.7 111.5M1020.3 108.3L1032.1 110.0L1021.1 114.6Z"/>
<path d="M748.7 150.1L754.3 146.6M753.8 145.8L757.0 144.9L754.7 147.4Z"/>
<path d="M783.9 150.1L790.2 147.0M789.8 146.1L793.3 145.5L790.6 147.8Z"/>
<path d="M819.1 150.1L824.9 145.7M824.3 144.9L827.7 143.6L825.5 146.5Z"/>
<path d="M854.3 150.1L861.2 146.5M860.8 145.5L864.6 144.7L861.7 147.4Z"/>
<path d="M889.5 150.1L900.3 147.4M900.0 146.0L905.4 146.1L900.7 148.7Z"/>
<path d="M924.7 150.1L938.0 146.9M937.6 145.2L944.1 145.4L938.4 148.5Z"/>
<path d="M959.9 150.1L977.5 146.8M977.1 144.6L985.5 145.3L977.9 149.0Z"/>
<path d="M995.1 150.1L1016.5 147.4M1016.2 144.7L1026.1 146.2L1016.8 150.0Z"/>
<path d="M713.5 185.4L713.4 185.3M713.4 185.4L713.1 185.0L713.5 185.3Z"/>
<path d="M748.7 185.4L746.4 183.3M746.1 183.7L745.1 182.2L746.7 183.0Z"/>
<path d="M783.9 185.4L781.8 183.7M781.5 184.0L780.6 182.6L782.1 183.3Z"/>
<path d="M819.1 185.4L818.0 184.3M817.7 184.6L817.1 183.6L818.2 184.1Z"/>
<path d="M854.3 185.4L854.3 185.3M854.2 185.3L854.3 184.9L854.4 185.3Z"/>
<path d="M889.5 185.4L893.5 183.9M893.3 183.3L895.7 183.1L893.7 184.5Z"/>
<path d="M924.7 185.4L933.2 183.2M932.9 182.1L937.3 182.2L933.5 184.3Z"/>
<path d="M959.9 185.4L970.3 183.2M970.0 181.8L975.2 182.1L970.6 184.5Z"/>
<path d="M995.1 185.4L1007.1 182.4M1006.7 180.9L1012.6 181.0L1007.4 184.0Z"/>
<path d="M678.3 220.8L678.2 220.7M678.2 220.8L677.9 220.4L678.3 220.6Z"/>
<path d="M713.5 220.8L706.6 218.6M706.3 219.5L703.2 217.6L706.8 217.7Z"/>
<path d="M748.7 220.8L743.8 218.7M743.5 219.4L741.3 217.6L744.1 218.0Z"/>
<path d="M783.9 220.8L777.9 219.1M777.7 219.9L774.9 218.3L778.1 218.3Z"/>
<path d="M819.1 220.8L812.4 218.9M812.1 219.8L809.1 218.0L812.6 218.0Z"/>
<path d="M854.3 220.8L849.2 218.7M848.9 219.4L846.5 217.6L849.4 218.0Z"/>
<path d="M889.5 220.8L886.6 218.9M886.3 219.3L885.0 217.8L886.9 218.4Z"/>
<circle cx="924.7" cy="220.2" r="1.91" stroke="none"/>
<circle cx="960.1" cy="220.3" r="1.91" stroke="none"/>
<path d="M995.1 220.8L1004.4 218.5M1004.1 217.3L1008.8 217.5L1004.7 219.7Z"/>
<path d="M643.1 256.1L628.2 255.3M628.1 257.2L621.4 255.0L628.3 253.4Z"/>
<path d="M678.3 256.1L664.8 254.9M664.7 256.6L658.6 254.4L665.0 253.2Z"/>
<path d="M713.5 256.1L704.0 256.7M704.1 257.9L699.5 256.9L703.9 255.4Z"/>
<path d="M748.7 256.1L740.7 257.0M740.8 258.0L736.8 257.4L740.6 255.9Z"/>
<path d="M783.9 256.1L776.9 257.0M777.0 257.9L773.4 257.4L776.7 256.0Z"/>
<path d="M819.1 256.1L814.5 256.4M814.6 257.0L812.1 256.5L814.5 255.7Z"/>
<path d="M854.3 256.1L850.9 254.8M850.7 255.4L849.1 254.2L851.1 254.3Z"/>
<path d="M889.5 256.1L889.5 256.0M889.4 256.0L889.7 255.6L889.7 256.1Z"/>
<path d="M924.7 256.1L929.0 257.4M929.2 256.8L931.3 258.1L928.9 258.0Z"/>
<path d="M959.9 256.1L963.5 258.0M963.8 257.5L965.4 259.0L963.2 258.5Z"/>
<path d="M995.1 256.1L999.5 257.7M999.7 257.0L1001.7 258.5L999.2 258.3Z"/>
<path d="M643.1 291.5L623.3 291.5M623.3 293.9L614.4 291.5L623.3 289.0Z"/>
<path d="M678.3 291.5L658.6 291.5M658.6 293.9L649.7 291.5L658.6 289.0Z"/>
<path d="M713.5 291.5L693.2 291.5M693.2 294.0L684.0 291.5L693.2 288.9Z"/>
<path d="M748.7 291.5L733.0 293.0M733.2 294.9L725.8 293.7L732.8 291.0Z"/>
<path d="M783.9 291.5L770.1 293.2M770.3 295.0L763.7 294.0L769.8 291.5Z"/>
<path d="M819.1 291.5L813.1 292.0M813.2 292.9L810.1 292.3L813.0 291.2Z"/>
<path d="M854.3 291.5L847.9 291.1M847.9 292.0L844.7 291.0L847.9 290.3Z"/>
<circle cx="889.2" cy="291.0" r="1.91" stroke="none"/>
<path d="M924.7 291.5L931.1 293.1M931.4 292.2L934.3 293.9L930.9 294.0Z"/>
<path d="M959.9 291.5L964.4 294.3M964.8 293.6L966.6 295.7L964.0 294.9Z"/>
<path d="M995.1 291.5L999.8 293.2M1000.1 292.5L1002.2 294.1L999.6 293.9Z"/>
</g>
<rect x="613.5" y="11.5" width="400.0" height="286.0" stroke="#1a1a1a" stroke-width="1" fill="none"/>
<g shape-rendering="crispEdges">
<rect x="1042.5" y="294.02" width="58.0" height="4.88" fill="#352a87"/>
<rect x="1042.5" y="289.53" width="58.0" height="4.88" fill="#363093"/>
<rect x="1042.5" y="285.05" width="58.0" height="4.88" fill="#3637a0"/>
<rect x="1042.5" y="280.56" width="58.0" height="4.88" fill="#353dad"/>
<rect x="1042.5" y="276.08" width="58.0" height="4.88" fill="#3243ba"/>
<rect x="1042.5" y="271.59" width="58.0" height="4.88" fill="#2c4ac7"/>
<rect x="1042.5" y="267.11" width="58.0" height="4.88" fill="#2053d4"/>
<rect x="1042.5" y="262.62" width="58.0" height="4.88" fill="#0f5cdd"/>
<rect x="1042.5" y="258.14" width="58.0" height="4.88" fill="#0363e1"/>
<rect x="1042.5" y="253.66" width="58.0" height="4.88" fill="#0268e1"/>
<rect x="1042.5" y="249.17" width="58.0" height="4.88" fill="#046de0"/>
<rect x="1042.5" y="244.69" width="58.0" height="4.88" fill="#0871de"/>
<rect x="1042.5" y="240.20" width="58.0" height="4.88" fill="#0d75dc"/>
<rect x="1042.5" y="235.72" width="58.0" height="4.88" fill="#1079da"/>
<rect x="1042.5" y="231.23" width="58.0" height="4.88" fill="#127dd8"/>
<rect x="1042.5" y="226.75" width="58.0" height="4.88" fill="#1481d6"/>
<rect x="1042.5" y="222.27" width="58.0" height="4.88" fill="#1485d4"/>
<rect x="1042.5" y="217.78" width="58.0" height="4.88" fill="#1389d3"/>
<rect x="1042.5" y="213.30" width="58.0" height="4.88" fill="#108ed2"/>
<rect x="1042.5" y="208.81" width="58.0" height="4.88" fill="#0c93d2"/>
<rect x="1042.5" y="204.33" width="58.0" height="4.88" fill="#0998d1"/>
<rect x="1042.5" y="199.84" width="58.0" height="4.88" fill="#079ccf"/>
<rect x="1042.5" y="195.36" width="58.0" height="4.88" fill="#06a0cd"/>
<rect x="1042.5" y="190.88" width="58.0" height="4.88" fill="#06a4ca"/>
<rect x="1042.5" y="186.39" width="58.0" height="4.88" fill="#06a7c6"/>
<rect x="1042.5" y="181.91" width="58.0" height="4.88" fill="#07a9c2"/>
<rect x="1042.5" y="177.42" width="58.0" height="4.88" fill="#0aacbe"/>
<rect x="1042.5" y="172.94" width="58.0" height="4.88" fill="#0faeb9"/>
<rect x="1042.5" y="168.45" width="58.0" height="4.88" fill="#15b1b4"/>
<rect x="1042.5" y="163.97" width="58.0" height="4.88" fill="#1db3af"/>
<rect x="1042.5" y="159.48" width="58.0" height="4.88" fill="#25b5a9"/>
<rect x="1042.5" y="155.00" width="58.0" height="4.88" fill="#2eb7a4"/>
<rect x="1042.5" y="150.52" width="58.0" height="4.88" fill="#38b99e"/>
<rect x="1042.5" y="146.03" width="58.0" height="4.88" fill="#42bb98"/>
<rect x="1042.5" y="141.55" width="58.0" height="4.88" fill="#4dbc92"/>
<rect x="1042.5" y="137.06" width="58.0" height="4.88" fill="#59bd8c"/>
<rect x="1042.5" y="132.58" width="58.0" height="4.88" fill="#65be86"/>
<rect x="1042.5" y="128.09" width="58.0" height="4.88" fill="#71bf80"/>
<rect x="1042.5" y="123.61" width="58.0" height="4.88" fill="#7cbf7b"/>
<rect x="1042.5" y="119.12" width="58.0" height="4.88" fill="#87bf77"/>
<rect x="1042.5" y="114.64" width="58.0" height="4.88" fill="#92bf73"/>
<rect x="1042.5" y="110.16" width="58.0" height="4.88" fill="#9cbf6f"/>
<rect x="1042.5" y="105.67" width="58.0" height="4.88" fill="#a5be6b"/>
<rect x="1042.5" y="101.19" width="58.0" height="4.88" fill="#aebe67"/>
<rect x="1042.5" y="96.70" width="58.0" height="4.88" fill="#b7bd64"/>
<rect x="1042.5" y="92.22" width="58.0" height="4.88" fill="#c0bc60"/>
<rect x="1042.5" y="87.73" width="58.0" height="4.88" fill="#c8bc5d"/>
<rect x="1042.5" y="83.25" width="58.0" height="4.88" fill="#d1bb59"/>
<rect x="1042.5" y="78.77" width="58.0" height="4.88" fill="#d9ba56"/>
<rect x="1042.5" y="74.28" width="58.0" height="4.88" fill="#e1b952"/>
<rect x="1042.5" y="69.80" width="58.0" height="4.88" fill="#e9b94e"/>
<rect x="1042.5" y="65.31" width="58.0" height="4.88" fill="#f1b94a"/>
<rect x="1042.5" y="60.83" width="58.0" height="4.88" fill="#f8bb44"/>
<rect x="1042.5" y="56.34" width="58.0" height="4.88" fill="#fdbe3d"/>
<rect x="1042.5" y="51.86" width="58.0" height="4.88" fill="#ffc337"/>
<rect x="1042.5" y="47.38" width="58.0" height="4.88" fill="#fec832"/>
<rect x="1042.5" y="42.89" width="58.0" height="4.88" fill="#fcce2e"/>
<rect x="1042.5" y="38.41" width="58.0" height="4.88" fill="#fad32a"/>
<rect x="1042.5" y="33.92" width="58.0" height="4.88" fill="#f7d826"/>
<rect x="1042.5" y="29.44" width="58.0" height="4.88" fill="#f5de21"/>
<rect x="1042.5" y="24.95" width="58.0" height="4.88" fill="#f5e41d"/>
<rect x="1042.5" y="20.47" width="58.0" height="4.88" fill="#f5eb18"/>
<rect x="1042.5" y="15.98" width="58.0" height="4.88" fill="#f6f313"/>
<rect x="1042.5" y="11.50" width="58.0" height="4.88" fill="#f9fb0e"/>
</g>
<g stroke="#1a1a1a" stroke-width="1" fill="none">
<rect x="1042.5" y="11.5" width="58.0" height="287.0"/>
<path d="M1100.5 107.5h-4"/>
<path d="M1100.5 202.5h-4"/>
</g>
<text transform="translate(99.5 326.0) scale(0.930 1)" font-size="27"><tspan x="-2.4" textLength="19.5" lengthAdjust="spacingAndGlyphs">−</tspan><tspan x="17.8">1.0</tspan></text>
<text transform="translate(181.0 326.0) scale(0.930 1)" font-size="27"><tspan x="-2.4" textLength="19.5" lengthAdjust="spacingAndGlyphs">−</tspan><tspan x="17.8">0.5</tspan></text>
<text transform="translate(280.7 326.0) scale(0.930 1)" font-size="27">0</text>
<text transform="translate(352.8 326.0) scale(0.930 1)" font-size="27">0.5</text>
<text transform="translate(434.3 326.0) scale(0.930 1)" font-size="27">1.0</text>
<text transform="translate(54.1 50.6) scale(0.930 1)" font-size="27">1.0</text>
<text transform="translate(54.1 131.0) scale(0.930 1)" font-size="27">0.5</text>
<text transform="translate(72.9 211.0) scale(0.930 1)" font-size="27">0</text>
<text transform="translate(37.5 291.2) scale(0.930 1)" font-size="27"><tspan x="-2.4" textLength="19.5" lengthAdjust="spacingAndGlyphs">−</tspan><tspan x="17.8">0.5</tspan></text>
<text transform="translate(2.8 29.8) scale(1.000 1)" font-size="29.5">(<tspan class="it">a</tspan>)</text>
<text transform="translate(497.3 29.8) scale(1.000 1)" font-size="29.5">(<tspan class="it">b</tspan>)</text>
<text transform="translate(257.5 365.2) scale(1.000 1)" font-size="30"><tspan class="it" font-size="30">x</tspan><tspan x="14" y="5.5" font-size="38">/</tspan><tspan class="it" x="28.2" y="0" font-size="29">D</tspan><tspan class="it" x="48.3" y="5.5" font-size="19">p</tspan></text>
<text transform="translate(795.0 370.6) scale(1.000 1)" font-size="30"><tspan class="it" font-size="30">x</tspan><tspan x="14" y="5.5" font-size="38">/</tspan><tspan class="it" x="28.2" y="0" font-size="29">D</tspan><tspan class="it" x="48.3" y="5.5" font-size="19">p</tspan></text>
<text transform="translate(24.3 185.0) scale(0.930 1) rotate(-90)" font-size="27"><tspan class="it" font-size="27">y</tspan><tspan x="10.5" y="3.4" font-size="31" rotate="19">/</tspan><tspan class="it" x="27.5" y="0" font-size="26.5">D</tspan><tspan class="it" x="46.3" y="5.9" font-size="18.5">p</tspan></text>
<text transform="translate(597.6 325.8) scale(0.930 1)" font-size="27">0.5</text>
<text transform="translate(712.2 325.8) scale(0.930 1)" font-size="27">0.6</text>
<text transform="translate(826.7 325.8) scale(0.930 1)" font-size="27">0.7</text>
<text transform="translate(941.3 325.8) scale(0.930 1)" font-size="27">0.8</text>
<text transform="translate(541.8 78.8) scale(0.930 1)" font-size="27"><tspan x="-2.4" textLength="19.5" lengthAdjust="spacingAndGlyphs">−</tspan><tspan x="17.8">0.30</tspan></text>
<text transform="translate(541.8 136.0) scale(0.930 1)" font-size="27"><tspan x="-2.4" textLength="19.5" lengthAdjust="spacingAndGlyphs">−</tspan><tspan x="17.8">0.35</tspan></text>
<text transform="translate(541.8 193.2) scale(0.930 1)" font-size="27"><tspan x="-2.4" textLength="19.5" lengthAdjust="spacingAndGlyphs">−</tspan><tspan x="17.8">0.40</tspan></text>
<text transform="translate(541.8 250.5) scale(0.930 1)" font-size="27"><tspan x="-2.4" textLength="19.5" lengthAdjust="spacingAndGlyphs">−</tspan><tspan x="17.8">0.45</tspan></text>
<text transform="translate(541.8 307.7) scale(0.930 1)" font-size="27"><tspan x="-2.4" textLength="19.5" lengthAdjust="spacingAndGlyphs">−</tspan><tspan x="17.8">0.50</tspan></text>
<text transform="translate(1108.5 20.7) scale(0.930 1)" font-size="27">0.6</text>
<text transform="translate(1108.5 116.3) scale(0.930 1)" font-size="27">0.4</text>
<text transform="translate(1108.5 211.8) scale(0.930 1)" font-size="27">0.2</text>
<text transform="translate(1108.5 307.4) scale(0.930 1)" font-size="27">0</text>
<text transform="translate(1175.7 204.8) scale(0.930 1) rotate(-90)" font-size="30"><tspan class="it" font-size="30">u</tspan><tspan class="it" x="15" y="4.6" font-size="18.5">rel</tspan><tspan x="36" y="0.8" font-size="33" rotate="18">/</tspan><tspan class="it" x="53" y="0" font-size="30">u</tspan><tspan x="65.5" y="-3.8" font-size="27">′</tspan><tspan class="it" x="73" y="4.3" font-size="18.5" letter-spacing="1.2">rms</tspan></text>
</svg>
</body></html>
